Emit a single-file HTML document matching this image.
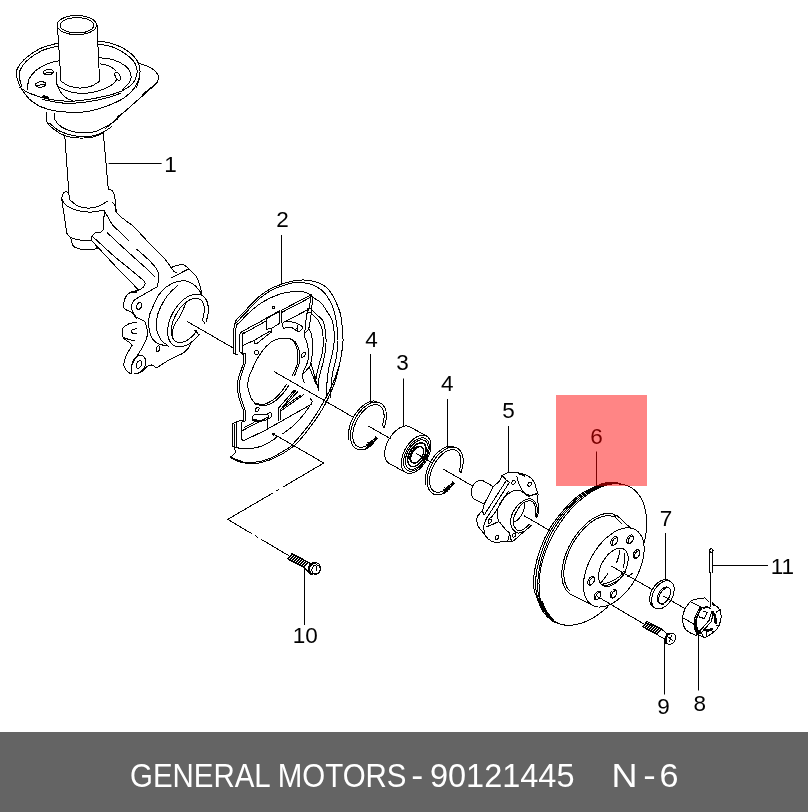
<!DOCTYPE html>
<html lang="en">
<head>
<meta charset="utf-8">
<title>GENERAL MOTORS - 90121445 N - 6</title>
<style>
html,body{margin:0;padding:0;background:#fff;}
body{width:808px;height:812px;overflow:hidden;font-family:"Liberation Sans",sans-serif;}
svg{display:block;will-change:transform;}
.art path{stroke:#000;stroke-linecap:round;stroke-linejoin:round;}
.lbl{font-family:"Liberation Sans",sans-serif;font-size:22.5px;fill:#000;text-anchor:middle;}
.ft{font-family:"Liberation Sans",sans-serif;font-size:33px;fill:#fff;}
</style>
</head>
<body>
<svg width="808" height="812" viewBox="0 0 808 812">
<rect x="0" y="0" width="808" height="812" fill="#fff"/>
<g class="art" shape-rendering="crispEdges">
<path d="M96.6 25.1C96.6 25.9 96.4 26.8 95.9 27.6C95.5 28.4 94.8 29.2 93.9 29.9C93.1 30.6 92 31.3 90.8 31.9C89.6 32.5 88.2 33 86.7 33.4C85.2 33.8 83.6 34.2 81.9 34.4C80.3 34.6 78.5 34.7 76.8 34.7C75.1 34.7 73.3 34.6 71.7 34.4C70 34.2 68.4 33.8 66.9 33.4C65.4 33 64 32.5 62.8 31.9C61.6 31.3 60.5 30.6 59.7 29.9C58.8 29.2 58.1 28.4 57.7 27.6C57.2 26.8 57 25.9 57 25.1C57 24.3 57.2 23.4 57.7 22.6C58.1 21.8 58.8 21 59.7 20.3C60.5 19.6 61.6 18.9 62.8 18.3C64 17.7 65.4 17.2 66.9 16.8C68.4 16.4 70 16 71.7 15.8C73.3 15.6 75.1 15.5 76.8 15.5C78.5 15.5 80.3 15.6 81.9 15.8C83.6 16 85.2 16.4 86.7 16.8C88.2 17.2 89.6 17.7 90.8 18.3C92 18.9 93.1 19.6 93.9 20.3C94.8 21 95.5 21.8 95.9 22.6C96.4 23.4 96.6 24.3 96.6 25.1Z" fill="none" stroke-width="1"/>
<path d="M93.9 25.3C93.9 26 93.7 26.7 93.3 27.3C92.9 27.9 92.4 28.6 91.6 29.1C90.9 29.7 90 30.3 89 30.7C87.9 31.2 86.7 31.6 85.5 32C84.2 32.3 82.8 32.6 81.4 32.7C80 32.9 78.5 33 77 33C75.5 33 74 32.9 72.6 32.7C71.2 32.6 69.8 32.3 68.6 32C67.3 31.6 66.1 31.2 65 30.7C64 30.3 63.1 29.7 62.4 29.1C61.6 28.6 61.1 27.9 60.7 27.3C60.3 26.7 60.1 26 60.1 25.3C60.1 24.6 60.3 23.9 60.7 23.3C61.1 22.7 61.6 22 62.4 21.4C63.1 20.9 64 20.3 65 19.9C66.1 19.4 67.3 19 68.5 18.6C69.8 18.3 71.2 18 72.6 17.9C74 17.7 75.5 17.6 77 17.6C78.5 17.6 80 17.7 81.4 17.9C82.8 18 84.2 18.3 85.5 18.6C86.7 19 87.9 19.4 89 19.9C90 20.3 90.9 20.9 91.6 21.4C92.4 22 92.9 22.7 93.3 23.3C93.7 23.9 93.9 24.6 93.9 25.3Z" fill="none" stroke-width="1"/>
<path d="M57.4 25.1L61 81.2" fill="none" stroke-width="1"/>
<path d="M97 25.1L99.6 81.2" fill="none" stroke-width="1"/>
<path d="M61 81.2C62.3 82 65.8 84.8 69 86C72.2 87.2 76.3 88 80 88.1C83.7 88.1 87.7 87.4 91 86.3C94.3 85.2 98.2 82 99.6 81.2" fill="none" stroke-width="1"/>
<path d="M56.5 72.6C56.5 74.4 55.3 80.7 56.5 83.5C57.7 86.3 59.7 87.8 63.5 89.4C67.3 91.1 73.7 93.1 79.3 93.4C84.9 93.7 91.8 92.7 97.1 91.4C102.4 90.1 107.7 87.4 111 85.4C114.3 83.4 115.9 80.5 116.9 79.5" fill="none" stroke-width="1"/>
<path d="M56.5 84C57.2 85.3 58.8 89.6 60.5 92C62.2 94.4 64.9 97.1 67 98.5C69.1 99.9 72 100.2 73 100.6" fill="none" stroke-width="1"/>
<path d="M58.5 42.9C55.4 43.9 45.5 46 39.7 48.8C33.9 51.6 27.7 56.2 23.9 59.7C20.1 63.2 18.1 66.6 16.9 69.6C15.7 72.6 16.1 74.2 16.9 77.5C17.7 80.8 19.4 85.4 21.9 89.4C24.4 93.4 27.5 98 31.8 101.3C36.1 104.6 41.3 107.4 47.6 109.2C53.9 111 62.5 111.9 69.4 112.2C76.3 112.5 82.6 112.4 89.2 111.2C95.8 110 103 107.5 109 105.2C115 102.9 120.6 100.3 124.9 97.3C129.2 94.3 132.3 91 134.8 87.4C137.3 83.8 139 79.5 139.7 75.5C140.3 71.5 140.5 67.7 138.7 63.7C136.9 59.8 133.1 55.1 128.8 51.8C124.5 48.5 118.3 45.7 113 43.9C107.7 42.1 99.8 41.4 97.1 40.9" fill="none" stroke-width="1"/>
<path d="M58.5 45.8C55.7 46.6 47 48.3 41.7 50.8C36.4 53.3 30.4 57.4 26.8 60.7C23.2 64 21.1 67.8 19.9 70.6C18.6 73.4 19 74.9 19.3 77.5C19.6 80.1 21.5 84.9 21.9 86.4" fill="none" stroke-width="1"/>
<path d="M97.1 43.9C99.6 44.4 107 45 112 46.8C117 48.6 122.8 51.8 126.8 54.8C130.8 57.8 134 61.2 135.7 64.7C137.3 68.2 137.3 72.2 136.7 75.5C136 78.8 134.1 82 131.8 84.5C129.5 87 124.9 89.2 122.9 90.4C120.9 91.6 120.4 91.6 119.9 91.8" fill="none" stroke-width="1"/>
<path d="M27.8 89.4C28 87.8 27.5 82.6 28.8 79.5C30.1 76.4 32.6 73.2 35.7 70.6C38.8 68 43.6 65.3 47.6 63.7C51.6 62.1 57.5 61.2 59.5 60.7" fill="none" stroke-width="1"/>
<path d="M99.1 57.7C101.4 58 108.7 58.4 113 59.7C117.3 61 121.9 63.3 124.9 65.6C127.9 67.9 130 70.9 130.8 73.6C131.6 76.2 131.1 78.9 129.8 81.5C128.5 84.1 124.1 88.1 122.9 89.4" fill="none" stroke-width="1"/>
<path d="M100 63.7C101.5 64.1 106.3 64.9 109 66C111.7 67.1 114.8 69.8 116 70.5" fill="none" stroke-width="1"/>
<path d="M19.9 87.4C21.5 88.4 24.9 91.4 29.8 93.4C34.8 95.4 43 98 49.6 99.3C56.2 100.6 62.8 101.3 69.4 101.3C76 101.3 82.6 100.3 89.2 99.3C95.8 98.3 103.9 96.5 109 95.3C114.1 94 118.1 92.4 119.9 91.8" fill="none" stroke-width="1"/>
<path d="M42 99.2C44.2 99.7 50.4 101.3 55 102C59.6 102.7 63.7 103.5 69.4 103.4C75.1 103.3 82.6 102.6 89.2 101.6C95.8 100.6 103.8 98.7 109 97.3C114.2 95.9 118.6 93.9 120.5 93.2" fill="none" stroke-width="1"/>
<path d="M53.2 71.8C53.2 72 53.2 72.2 53.1 72.5C53 72.7 52.8 72.9 52.6 73.2C52.4 73.4 52.2 73.6 51.9 73.8C51.6 74 51.3 74.2 50.9 74.3C50.5 74.5 50.1 74.6 49.7 74.7C49.3 74.8 48.9 74.9 48.4 74.9C48 74.9 47.6 74.9 47.1 74.9C46.7 74.9 46.3 74.8 45.9 74.7C45.5 74.7 45.2 74.5 44.8 74.4C44.5 74.3 44.2 74.1 44 73.9C43.8 73.7 43.6 73.5 43.4 73.3C43.3 73.1 43.2 72.9 43.2 72.6C43.2 72.4 43.2 72.2 43.3 71.9C43.4 71.7 43.6 71.5 43.8 71.2C44 71 44.2 70.8 44.5 70.6C44.8 70.4 45.1 70.2 45.5 70.1C45.9 69.9 46.3 69.8 46.7 69.7C47.1 69.6 47.5 69.5 48 69.5C48.4 69.5 48.8 69.5 49.3 69.5C49.7 69.5 50.1 69.6 50.5 69.7C50.9 69.7 51.2 69.9 51.6 70C51.9 70.1 52.2 70.3 52.4 70.5C52.6 70.7 52.8 70.9 53 71.1C53.1 71.3 53.2 71.5 53.2 71.8Z" fill="none" stroke-width="1"/>
<path d="M43.6 73.4L52.8 72" fill="none" stroke-width="1"/>
<path d="M45.9 84C45.9 84.3 45.9 84.5 45.8 84.8C45.7 85 45.5 85.2 45.3 85.5C45.1 85.7 44.8 85.9 44.5 86.1C44.2 86.3 43.9 86.5 43.5 86.6C43.1 86.8 42.7 86.9 42.3 87C41.8 87.1 41.4 87.2 40.9 87.2C40.5 87.2 40 87.2 39.6 87.2C39.1 87.2 38.7 87.1 38.3 87.1C37.9 87 37.5 86.9 37.2 86.7C36.9 86.6 36.6 86.4 36.3 86.2C36.1 86.1 35.9 85.8 35.8 85.6C35.6 85.4 35.5 85.2 35.5 85C35.5 84.7 35.5 84.5 35.6 84.2C35.7 84 35.9 83.8 36.1 83.5C36.3 83.3 36.6 83.1 36.9 82.9C37.2 82.7 37.5 82.5 37.9 82.4C38.3 82.2 38.7 82.1 39.1 82C39.6 81.9 40 81.8 40.5 81.8C40.9 81.8 41.4 81.8 41.8 81.8C42.3 81.8 42.7 81.9 43.1 81.9C43.5 82 43.9 82.1 44.2 82.3C44.5 82.4 44.8 82.6 45.1 82.8C45.3 82.9 45.5 83.2 45.6 83.4C45.8 83.6 45.9 83.8 45.9 84Z" fill="none" stroke-width="1"/>
<path d="M36 85.6L45.6 84.2" fill="none" stroke-width="1"/>
<path d="M119.5 75.2C119.7 75.5 119.9 75.9 120 76.2C120.1 76.6 120.2 76.9 120.3 77.2C120.4 77.6 120.4 77.9 120.4 78.2C120.4 78.5 120.4 78.8 120.4 79C120.3 79.3 120.2 79.5 120.1 79.7C120 79.9 119.8 80 119.7 80.1C119.5 80.2 119.3 80.2 119.1 80.2C118.9 80.2 118.7 80.2 118.4 80.1C118.2 80 117.9 79.9 117.7 79.7C117.4 79.5 117.2 79.3 117 79C116.7 78.8 116.5 78.5 116.3 78.2C116 77.9 115.8 77.6 115.7 77.2C115.5 76.9 115.3 76.5 115.2 76.2C115.1 75.8 115 75.5 114.9 75.2C114.8 74.8 114.8 74.5 114.8 74.2C114.8 73.9 114.8 73.6 114.8 73.4C114.9 73.1 115 72.9 115.1 72.7C115.2 72.5 115.4 72.4 115.5 72.3C115.7 72.2 115.9 72.2 116.1 72.2C116.3 72.2 116.5 72.2 116.8 72.3C117 72.4 117.3 72.5 117.5 72.7C117.8 72.9 118 73.1 118.2 73.4C118.5 73.6 118.7 73.9 118.9 74.2C119.2 74.5 119.4 74.8 119.5 75.2Z" fill="none" stroke-width="1"/>
<path d="M43.5 96.2L48 97.6" fill="none" stroke-width="2.2"/>
<path d="M139.7 63.7C141.2 64.2 145.8 65.1 148.6 66.6C151.4 68.1 154.8 70.6 156.5 72.6C158.2 74.6 158.5 76.7 158.5 78.5C158.5 80.3 156.8 82.7 156.5 83.5" fill="none" stroke-width="1"/>
<path d="M156.5 83.5L105 129" fill="none" stroke-width="1"/>
<path d="M142.7 94.4L157.5 82.5" fill="none" stroke-width="1"/>
<path d="M116.9 117.1L126.8 110.2" fill="none" stroke-width="1"/>
<path d="M139.7 77.5C139.4 78.4 138.6 81.2 138 83C137.4 84.8 136.5 87.2 136.2 88" fill="none" stroke-width="1"/>
<path d="M46.6 112.2C46.6 113.7 45.4 118.3 46.6 121.1C47.8 123.9 50.5 126.5 53.6 129C56.7 131.5 61.1 134.4 65.4 135.9C69.7 137.4 74.6 137.8 79.2 138C83.8 138.2 88.9 137.9 93 137C97.1 136.1 102.2 133.4 104 132.7" fill="none" stroke-width="1"/>
<path d="M54.6 113.2C54.6 114.2 53.5 116.8 54.6 119.1C55.8 121.4 58 124.8 61.5 127C65 129.2 70 131.2 75.3 132C80.6 132.8 88.2 132.8 93.2 132C98.2 131.2 101.4 128.8 105 127C108.6 125.2 112.3 123.1 115 121.1C117.7 119.1 119.9 116.1 120.9 115.1" fill="none" stroke-width="1"/>
<path d="M49.6 123.1C51.2 124.4 55.2 128.9 59.5 131C63.8 133.1 69.7 135.1 75.3 135.9C80.9 136.7 88.2 136.7 93.2 135.9C98.2 135.1 101.9 132.6 105 131C108.1 129.4 110.8 127.2 112 126.5" fill="none" stroke-width="1"/>
<path d="M64.8 135.8L69.3 199.2" fill="none" stroke-width="1"/>
<path d="M103.4 133.9L108.3 189.3" fill="none" stroke-width="1"/>
<path d="M69.3 199.2C70.6 200.2 74 204 77 205.5C80 207 83.9 208 87.5 208.1C91.1 208.2 95.2 207.5 98.5 206.3C101.8 205.2 105.8 202 107.3 201.2" fill="none" stroke-width="1"/>
<path d="M69 192.5C68.3 192.4 66.1 191.5 65 191.8C63.9 192.1 63 193.3 62.5 194.5C62 195.7 61.9 198.4 61.8 199.2" fill="none" stroke-width="1"/>
<path d="M61.8 199.2L66.7 232.9" fill="none" stroke-width="1"/>
<path d="M61.8 199.2C62.7 200.3 64 204 67 206C70 208 75.4 210 79.6 211C83.8 212 88 212.2 92 212C96 211.8 101.5 210.4 103.4 210.1" fill="none" stroke-width="1"/>
<path d="M108.5 189.3C109.2 189.6 111.5 190 112.5 191C113.5 192 114.1 193.8 114.6 195.5C115 197.2 115.1 200.2 115.2 201.2" fill="none" stroke-width="1"/>
<path d="M115.2 201.2L116.2 211.1" fill="none" stroke-width="1"/>
<path d="M112.9 202.5L115.2 206L115.4 211.3" fill="none" stroke-width="1"/>
<path d="M103.4 210.1L104.2 210.5L103.6 229.7L100.5 232.2L95 232.8L91.9 235.9L91.9 240.8" fill="none" stroke-width="1"/>
<path d="M66.7 232.9C67.3 233.7 68.3 236.3 70.5 237.5C72.7 238.7 76.5 239.4 80 240C83.5 240.6 89.6 240.7 91.5 240.8" fill="none" stroke-width="1"/>
<path d="M70.9 238.2C71.2 239.4 71.7 243.8 72.9 245.5C74.1 247.2 75.9 247.9 78 248.6C80.1 249.3 83.2 249.5 85.5 249.7C87.8 249.9 90 249.8 92 249.6C94 249.4 96.5 248.7 97.4 248.5" fill="none" stroke-width="1"/>
<path d="M97.4 248.5L95.5 244.3" fill="none" stroke-width="1"/>
<path d="M115.2 201.2C115.4 203.1 115 209.3 116.6 212.4C118.2 215.5 121.9 217.5 124.7 219.8C127.5 222.1 131.9 225 133.3 226" fill="none" stroke-width="1"/>
<path d="M133.3 226L148.2 242.1L164.3 258.2L171.1 267.5" fill="none" stroke-width="1"/>
<path d="M171.1 267.5C172 267.2 174.8 266.1 176.5 265.6C178.2 265.1 180.2 264.4 181.6 264.4C183 264.4 183.8 264.9 185 265.6C186.2 266.4 187.1 266.9 189.1 268.9C191.1 270.9 195 274.3 197 277.8C199 281.3 200.2 286.7 201 289.7C201.8 292.7 201.8 294.6 202 295.6" fill="none" stroke-width="1"/>
<path d="M171.1 267.5L174.2 271.8L177 272.8" fill="none" stroke-width="1"/>
<path d="M172.3 277.4L187.8 269.3" fill="none" stroke-width="1"/>
<path d="M104.2 210.5L112.3 224.8L128.4 240.2" fill="none" stroke-width="1"/>
<path d="M107.3 232.8L118.5 243.3L130.8 254.5L144.5 266.8L155 277.3" fill="none" stroke-width="1"/>
<path d="M137 249.5C139.1 251.3 146.1 257.3 149.4 260.6C152.7 263.9 155.2 266.6 156.8 269.3C158.4 272 158.6 273.8 158.7 276.7C158.8 279.6 157.7 285 157.5 286.6" fill="none" stroke-width="1"/>
<path d="M91.9 235.9L114.8 256.9L127.1 266.8L142 279.2" fill="none" stroke-width="1"/>
<path d="M142 279.2C142.5 279.8 144.8 281.7 145.1 282.9C145.4 284.1 144.8 285.4 143.8 286.6C142.8 287.8 139.7 289.7 138.9 290.3" fill="none" stroke-width="1"/>
<path d="M91.9 240.8L116 266.8L138.9 290.3" fill="none" stroke-width="1"/>
<path d="M138.9 290.3C137.6 290.6 133 291.2 130.8 292.2C128.6 293.2 127.1 294.7 125.9 296.5C124.7 298.3 124.1 301.1 123.8 303C123.5 304.9 123.4 306.8 124 308C124.6 309.2 126.2 309.8 127.5 310.5C128.8 311.2 130.2 311.2 131.7 312.5C133.2 313.8 135.8 317.4 136.6 318.4" fill="none" stroke-width="1"/>
<path d="M131.5 291.8L136.5 292.4" fill="none" stroke-width="2"/>
<path d="M157.5 286.6L134.7 299.6" fill="none" stroke-width="1"/>
<path d="M134.7 299.6C134.2 300.3 132.5 302.4 132 304C131.5 305.6 131.4 307.8 131.7 309.5C132 311.2 133.2 312.7 134 314C134.8 315.3 135.4 316.5 136.6 317.4C137.8 318.3 139.7 318.9 141 319.6C142.3 320.3 143.7 320.2 144.6 321.4C145.5 322.6 146 325 146.5 327C147 329 147.6 331.1 147.5 333.3C147.4 335.5 146.8 337.7 146 340C145.2 342.3 144.1 344.4 142.6 347.1C141.1 349.8 138.7 353.4 137 356C135.3 358.6 133.6 361 132.7 363C131.8 365 131.7 366.4 131.5 368C131.3 369.6 131.7 372.1 131.7 372.9" fill="none" stroke-width="1"/>
<path d="M141.4 306.7C141.3 307 141.1 307.3 141 307.6C140.8 307.8 140.6 308.1 140.4 308.3C140.3 308.5 140 308.8 139.8 308.9C139.6 309.1 139.4 309.2 139.2 309.3C139 309.4 138.7 309.4 138.5 309.5C138.3 309.5 138.1 309.4 137.9 309.4C137.7 309.3 137.6 309.2 137.4 309.1C137.3 308.9 137.1 308.7 137 308.5C136.9 308.3 136.8 308.1 136.8 307.8C136.7 307.5 136.7 307.3 136.7 307C136.7 306.7 136.7 306.3 136.8 306C136.8 305.7 136.9 305.4 137 305.1C137.1 304.8 137.3 304.5 137.4 304.2C137.6 304 137.8 303.7 138 303.5C138.1 303.3 138.4 303 138.6 302.9C138.8 302.7 139 302.6 139.2 302.5C139.4 302.4 139.7 302.4 139.9 302.3C140.1 302.3 140.3 302.4 140.5 302.4C140.7 302.5 140.8 302.6 141 302.7C141.1 302.9 141.3 303.1 141.4 303.3C141.5 303.5 141.6 303.7 141.6 304C141.7 304.3 141.7 304.5 141.7 304.8C141.7 305.1 141.7 305.5 141.6 305.8C141.6 306.1 141.5 306.4 141.4 306.7Z" fill="none" stroke-width="1"/>
<path d="M136.6 322.1C135.3 322.4 130.9 322.9 128.6 323.9C126.3 324.9 124.1 326.8 123 328.3C121.9 329.9 122 331.6 122.1 333.2C122.2 334.8 122.5 336.8 123.6 338.2C124.7 339.6 127.1 340.8 128.6 341.9C130.1 343 131.7 344.5 132.3 345" fill="none" stroke-width="1"/>
<path d="M123 336.9C123.9 337.3 126.7 338.8 128.6 339.4C130.5 340 133.5 340.4 134.5 340.6" fill="none" stroke-width="1"/>
<path d="M136.6 328.9C135.9 329 133.2 329.1 132.3 329.5C131.4 329.9 131.2 330.8 131.3 331.4C131.4 332 132 332.8 132.9 333.2C133.8 333.6 136 333.4 136.6 333.5" fill="none" stroke-width="1"/>
<path d="M132.3 345C131.8 345.9 130.1 348.5 129 350.5C127.9 352.5 126.6 354.6 125.7 357C124.8 359.4 123.7 362.8 123.8 365C123.9 367.2 125.2 369 126.5 370.5C127.8 372 129.5 373.5 131.7 373.9C133.9 374.3 137.6 373.5 139.6 372.9C141.6 372.2 142.3 371 143.5 370C144.7 369 145.2 367.7 146.5 366.9C147.8 366.1 149.8 364.8 151.5 365C153.2 365.2 155.6 367.4 156.4 367.9" fill="none" stroke-width="1"/>
<path d="M156.4 367.9L167.3 361L183.2 353.1" fill="none" stroke-width="1"/>
<path d="M183.2 353.1C183.9 352.4 186.3 350.3 187.5 349C188.7 347.7 189.3 346.4 190.1 345.1C190.8 343.8 191.7 341.7 192 341" fill="none" stroke-width="1"/>
<path d="M131.8 366C131.8 365.7 131.8 364.8 131.9 364.2C132 363.6 132.2 362.9 132.4 362.3C132.6 361.7 132.8 361.1 133.1 360.6C133.4 360 133.8 359.4 134.1 358.9C134.5 358.4 134.9 358 135.3 357.5C135.8 357.1 136.2 356.8 136.7 356.5C137.2 356.1 137.7 355.9 138.2 355.7C138.7 355.5 139.2 355.4 139.7 355.3C140.1 355.3 140.6 355.3 141.1 355.4C141.6 355.4 142 355.6 142.5 355.8C142.9 356 143.3 356.3 143.6 356.6C144 356.9 144.3 357.3 144.6 357.7C144.9 358.1 145.1 358.6 145.3 359.1C145.5 359.7 145.6 360.2 145.7 360.8C145.8 361.4 145.8 362 145.8 362.6C145.8 363.2 145.7 363.8 145.5 364.4C145.4 365.1 145.2 365.7 145 366.3C144.8 366.9 144.5 367.5 144.2 368C143.9 368.6 143.5 369.1 143.1 369.6C142.7 370 142.3 370.5 141.8 370.9C141.4 371.2 140.9 371.6 140.4 371.8C139.9 372.1 139.2 372.4 138.9 372.5" fill="none" stroke-width="1"/>
<path d="M141.2 365.4C141.1 365.7 140.9 366 140.8 366.3C140.6 366.6 140.4 366.9 140.2 367.1C140 367.4 139.7 367.6 139.5 367.8C139.3 367.9 139 368.1 138.8 368.2C138.6 368.3 138.3 368.3 138.1 368.3C137.9 368.3 137.7 368.3 137.5 368.2C137.3 368.1 137.1 368 137 367.8C136.8 367.7 136.7 367.5 136.6 367.3C136.5 367 136.4 366.8 136.4 366.5C136.3 366.2 136.3 365.9 136.3 365.6C136.3 365.3 136.4 364.9 136.5 364.6C136.5 364.3 136.6 363.9 136.8 363.6C136.9 363.3 137.1 363 137.2 362.7C137.4 362.4 137.6 362.1 137.8 361.9C138 361.6 138.3 361.4 138.5 361.2C138.7 361.1 139 360.9 139.2 360.8C139.4 360.7 139.7 360.7 139.9 360.7C140.1 360.7 140.3 360.7 140.5 360.8C140.7 360.9 140.9 361 141 361.2C141.2 361.3 141.3 361.5 141.4 361.7C141.5 362 141.6 362.2 141.6 362.5C141.7 362.8 141.7 363.1 141.7 363.4C141.7 363.7 141.6 364.1 141.5 364.4C141.5 364.7 141.4 365.1 141.2 365.4Z" fill="none" stroke-width="1"/>
<path d="M159.7 349.3C159.6 349.6 159.5 349.8 159.4 350C159.2 350.2 159.1 350.5 159 350.6C158.8 350.8 158.6 351 158.5 351.1C158.3 351.3 158.1 351.4 158 351.4C157.8 351.5 157.6 351.6 157.4 351.6C157.3 351.6 157.1 351.6 157 351.5C156.8 351.5 156.7 351.4 156.6 351.3C156.5 351.1 156.3 351 156.3 350.8C156.2 350.7 156.1 350.5 156.1 350.3C156 350 156 349.8 156 349.6C156 349.3 156.1 349.1 156.1 348.8C156.1 348.6 156.2 348.3 156.3 348.1C156.4 347.8 156.5 347.6 156.6 347.4C156.8 347.2 156.9 346.9 157 346.8C157.2 346.6 157.4 346.4 157.5 346.3C157.7 346.1 157.9 346 158 346C158.2 345.9 158.4 345.8 158.6 345.8C158.7 345.8 158.9 345.8 159 345.9C159.2 345.9 159.3 346 159.4 346.1C159.5 346.3 159.7 346.4 159.7 346.6C159.8 346.7 159.9 346.9 159.9 347.1C160 347.4 160 347.6 160 347.8C160 348.1 159.9 348.3 159.9 348.6C159.9 348.8 159.8 349.1 159.7 349.3Z" fill="none" stroke-width="1"/>
<path d="M165.3 287.7C164.1 289.1 160 293 158 296C156 299 154.9 302.3 153.5 305.5C152.1 308.7 150.3 312 149.5 315C148.7 318 148.5 320.7 148.5 323.4C148.5 326.1 149 328.7 149.5 331C150 333.3 150.6 335.4 151.5 337.2C152.4 338.9 153.7 340.3 155 341.5C156.3 342.7 157.2 343.4 159.4 344.2C161.6 345 166.8 345.8 168.3 346.1" fill="none" stroke-width="1"/>
<path d="M177.2 285.7C175.7 287.2 170.6 291.7 168 295C165.4 298.3 163.2 302.2 161.4 305.5C159.7 308.8 158.3 312 157.5 315C156.7 318 156.5 320.7 156.4 323.4C156.3 326.1 156.5 328.7 157 331C157.5 333.3 158.4 335.4 159.4 337.2C160.4 339 161.7 340.7 163 342C164.3 343.3 166.6 344.6 167.3 345.1" fill="none" stroke-width="1"/>
<path d="M165.3 287.7C166.4 287 169.7 284.6 172 283.5C174.3 282.4 176.9 281.6 179.2 281.2C181.5 280.8 183.7 280.5 186 281C188.3 281.5 190.8 282.5 193 284C195.2 285.5 197.5 288.1 199 290C200.5 291.9 201.5 294.7 202 295.6" fill="none" stroke-width="1"/>
<path d="M171.9 277.5L188.7 269.3" fill="none" stroke-width="1"/>
<path d="M199.1 334.6C198.4 335.3 196.5 337.7 195.2 339C193.8 340.3 192.4 341.6 191 342.6C189.5 343.6 188.1 344.5 186.6 345.2C185.2 345.8 183.7 346.3 182.3 346.6C181 346.9 179.6 347 178.3 346.9C177 346.8 175.8 346.4 174.7 345.9C173.6 345.4 172.6 344.7 171.8 343.8C170.9 343 170.1 341.9 169.5 340.7C168.9 339.5 168.4 338.1 168.1 336.6C167.8 335.1 167.6 333.5 167.6 331.8C167.6 330.1 167.8 328.3 168.1 326.4C168.4 324.6 168.8 322.7 169.4 320.8C170 319 170.8 317 171.6 315.2C172.5 313.4 173.5 311.5 174.6 309.8C175.7 308.1 176.9 306.5 178.1 304.9C179.4 303.4 180.8 302 182.1 300.8C183.5 299.5 185 298.4 186.4 297.5C187.8 296.6 189.3 295.8 190.8 295.3C192.2 294.7 193.6 294.3 195 294.2C196.3 294 197.7 294.1 198.9 294.3C200.1 294.5 201.3 295 202.3 295.6C203.3 296.2 204.3 297.1 205 298.1C205.8 299.1 206.5 300.2 207 301.5C207.5 302.8 207.9 304.3 208.1 305.9C208.3 307.4 208.4 309.1 208.3 310.9C208.2 312.6 208 314.5 207.6 316.3C207.2 318.2 206.2 321 206 322" fill="none" stroke-width="1"/>
<path d="M196.9 330.7C196.4 331.4 194.9 333.5 193.8 334.7C192.7 335.8 191.5 337 190.4 337.9C189.2 338.9 188.1 339.7 186.9 340.4C185.7 341.1 184.6 341.6 183.4 342C182.3 342.3 181.2 342.6 180.2 342.6C179.2 342.6 178.2 342.5 177.3 342.2C176.4 341.9 175.5 341.4 174.8 340.8C174.1 340.2 173.5 339.4 173 338.5C172.5 337.6 172.1 336.6 171.8 335.4C171.5 334.3 171.3 333 171.3 331.6C171.3 330.3 171.4 328.8 171.6 327.3C171.8 325.9 172.1 324.3 172.6 322.7C173 321.2 173.6 319.6 174.3 318C175 316.5 175.7 314.9 176.6 313.4C177.4 311.9 178.4 310.5 179.4 309.1C180.4 307.8 181.5 306.5 182.6 305.3C183.7 304.2 184.8 303.1 186 302.2C187.2 301.3 188.3 300.6 189.5 300C190.7 299.3 191.8 298.9 192.9 298.6C194 298.3 195.1 298.2 196.1 298.2C197.1 298.3 198.1 298.5 198.9 298.8C199.8 299.2 200.6 299.7 201.3 300.4C201.9 301.1 202.5 302 203 302.9C203.4 303.9 203.8 305 204 306.2C204.2 307.4 204.3 308.7 204.3 310.1C204.3 311.5 204.1 313 203.8 314.5C203.6 316 202.9 318.4 202.7 319.1" fill="none" stroke-width="1"/>
<path d="M205 323.4L202 319.4" fill="none" stroke-width="1"/>
<path d="M198 333.6L194.8 330.2" fill="none" stroke-width="1"/>
<path d="M186.1 302.6C185.5 304 183.7 308.5 182.5 311C181.3 313.5 180.4 315.2 179.2 317.4C177.9 319.6 176.1 321.7 175 324C173.9 326.3 172.8 328.8 172.5 331C172.2 333.2 172.9 336 173 337" fill="none" stroke-width="1"/>
<path d="M235.6 320.8C237.3 318.9 242.1 313.8 246.1 309.7C250.1 305.6 255.6 299.5 259.7 296C263.8 292.5 267.2 290.6 270.8 288.6C274.4 286.7 277.9 285.5 281.4 284.3C284.9 283.1 288.5 281.9 291.9 281.2C295.3 280.5 298.7 280.1 301.8 280C304.9 279.9 307.5 280.1 310.4 280.6C313.3 281.1 316.4 281.9 319.1 283C321.8 284.1 324.4 285.5 326.5 287.4C328.6 289.3 330.3 291.8 332 294.5C333.7 297.2 335.3 300.6 336.6 303.6C337.9 306.6 339.2 309.5 340 312.5C340.8 315.5 341.1 316.6 341.6 321.4C342.1 326.2 343.2 334.9 343 341.2C342.8 347.5 341.7 353.1 340.6 359C339.5 364.9 338.2 371.3 336.6 376.8C335 382.3 333.3 386.8 331 392C328.7 397.2 326.3 402.5 323 408.1C319.7 413.8 315.6 420 311.1 425.9C306.7 431.8 300.8 439.2 296.3 443.7C291.9 448.1 288.8 449.9 284.4 452.6C279.9 455.3 274.6 458.1 269.6 460C264.7 461.9 258.8 463.3 254.7 463.8C250.6 464.3 246.6 463.1 245 463" fill="none" stroke-width="1"/>
<path d="M236.6 322.4C238.4 320.5 243.2 315.3 247.2 311.2C251.2 307.1 256.6 301.1 260.7 297.6C264.8 294.1 268.1 292.1 271.6 290.2C275.2 288.2 278.6 287.1 282 285.9C285.4 284.7 289 283.6 291.9 283C294.8 282.4 296.4 282.3 299.3 282.4C302.2 282.5 306.3 283 309.2 283.7C312.1 284.4 314.1 285.4 316.6 286.8C319.1 288.2 321.8 289.9 324 292.3C326.2 294.7 328.4 298.2 330 301C331.6 303.8 332.4 305.3 333.5 309C334.6 312.7 335.9 318 336.6 323.4C337.4 328.8 338.1 335.3 338 341.2C337.9 347.1 337 353.2 336 359C335 364.8 333 369.6 332.1 376C331.2 382.4 330.7 393.9 330.4 397.5" fill="none" stroke-width="1"/>
<path d="M230.9 457.1C232.4 457.8 235.9 460.6 239.9 461.5C243.9 462.4 249.8 462.8 254.7 462.3C259.6 461.8 264.7 460.6 269.6 458.6C274.6 456.6 280.7 452.6 284.4 450.4C288.1 448.2 287.8 449.3 291.8 445.2C295.8 441.1 303.5 432.1 308.2 425.9C312.9 419.7 316.5 413.8 320 408.1C323.5 402.4 326.7 396.3 329 391.7C331.3 387.1 332.5 384.1 334 380.5C335.5 376.9 336.7 373.4 337.8 370C338.9 366.6 340 361.7 340.4 360" fill="none" stroke-width="1"/>
<path d="M230.9 457.1C231.6 457.5 233.2 458.8 235 459.6C236.8 460.4 240.8 461.6 242 462" fill="none" stroke-width="2"/>
<path d="M237.4 324.5C239.7 322.2 246.7 314.7 251 310.9C255.3 307.1 258.6 304.4 263.4 301.6C268.1 298.8 274.8 295.9 279.5 294.2C284.2 292.5 288.6 292.2 291.9 291.7C295.2 291.2 296.8 290.9 299.3 291.1C301.8 291.3 304.6 292.2 306.7 292.9C308.8 293.6 310.9 295 311.7 295.4" fill="none" stroke-width="1"/>
<path d="M312.9 297.5C314.2 298.4 318.5 300.4 320.8 302.6C323.1 304.9 325.3 308.9 326.7 311C328.1 313.1 328.3 313.2 329.3 315C330.3 316.8 331.8 318.9 332.6 321.6C333.4 324.3 333.7 328.4 334 331C334.3 333.6 334.4 334.7 334.3 337.2C334.2 339.7 334.2 342.7 333.7 346C333.2 349.3 332.3 353.4 331.5 357.1C330.7 360.8 329.4 364.1 328.7 368.2C328 372.3 327.5 376.9 327.1 381.5C326.7 386.1 326.6 393.5 326.5 395.9" fill="none" stroke-width="1"/>
<path d="M311.3 309.2C312.3 310.2 315.2 313.1 317.1 315C319 316.9 321.3 317.7 322.7 320.5C324.1 323.3 324.8 327.4 325.4 331.6C325.9 335.9 326.3 341.4 326 346C325.7 350.6 324.7 354.9 323.8 359.3C322.9 363.7 321.3 368.8 320.4 372.6C319.5 376.4 318.7 379.1 318.4 382C318.1 384.9 318.6 388.8 318.7 390.2" fill="none" stroke-width="1"/>
<path d="M310.2 312.2C310.9 312.9 313.2 315.1 314.5 316.5C315.8 317.9 316.9 318.4 318.2 320.5C319.5 322.6 321.3 326.2 322.1 329.4C322.9 332.5 323.1 335.9 323.2 339.4C323.3 342.9 323.3 346.4 322.7 350.5C322.1 354.6 320.3 359.7 319.3 363.8C318.3 367.9 317.2 371.8 316.6 374.9C316 378 315.7 381.3 315.5 382.6" fill="none" stroke-width="1"/>
<path d="M309.4 367.1L315.5 382.6" fill="none" stroke-width="1"/>
<path d="M311 363L318.6 390.2" fill="none" stroke-width="1"/>
<path d="M315.2 377L315.6 382.8" fill="none" stroke-width="2"/>
<path d="M235.6 320.8L233.7 329.5L233.7 353.6L236.2 354.4L237.6 354.1" fill="none" stroke-width="1"/>
<path d="M237.2 323.2L235.6 330L235.6 353.8" fill="none" stroke-width="1"/>
<path d="M242.4 331.3C242 331.7 240.7 332.6 240.2 333.5C239.7 334.4 239.5 333.9 239.3 337C239.2 340.1 239.3 349.3 239.3 351.8" fill="none" stroke-width="1"/>
<path d="M243.6 332.6C243.4 333 242.4 333.9 242.2 335C242 336.1 242.4 338.8 242.4 339.5" fill="none" stroke-width="1"/>
<path d="M242.4 339.5L242.4 353" fill="none" stroke-width="1"/>
<path d="M239.3 351.8L242.4 353.6L245.5 353.6L245.5 362.9" fill="none" stroke-width="1"/>
<path d="M245.5 362.9C245 364.4 243.3 369.2 242.4 372C241.5 374.8 240.5 377.4 240 379.9C239.5 382.3 239.2 384 239.3 386.7C239.4 389.4 239.9 392.8 240.6 396C241.3 399.2 242.8 403.6 243.6 406C244.4 408.4 244.9 409.8 245.2 410.5" fill="none" stroke-width="1"/>
<path d="M242.4 354.4L243.6 354.4L243.6 362.9" fill="none" stroke-width="1"/>
<path d="M243.6 362.9C243.1 364.4 241.4 369.2 240.5 372C239.6 374.8 238.5 377.4 238 379.9C237.5 382.3 237.3 384 237.4 386.7C237.5 389.4 237.9 392.8 238.6 396C239.3 399.2 240.8 403.6 241.6 406C242.4 408.4 243.3 409.8 243.6 410.5" fill="none" stroke-width="1"/>
<path d="M245.2 410.5L245.2 421" fill="none" stroke-width="1"/>
<path d="M243.6 410.5L243.6 420" fill="none" stroke-width="1"/>
<path d="M242.4 331.3L266.5 318.3" fill="none" stroke-width="1"/>
<path d="M243.8 333.4L266.5 320.8" fill="none" stroke-width="1"/>
<path d="M266.5 318.3L279.5 311.2" fill="none" stroke-width="1.6"/>
<path d="M281 310.5L311.1 294.8" fill="none" stroke-width="1"/>
<path d="M281 312.8L312.4 296.4" fill="none" stroke-width="1"/>
<path d="M266.5 318.3L266.5 329.5L269.6 328.2L271.5 328.8L271.5 331.9" fill="none" stroke-width="1"/>
<path d="M279.5 311.2L279.5 323.3" fill="none" stroke-width="1"/>
<path d="M281 310.5L281 322.8" fill="none" stroke-width="1"/>
<path d="M271.5 328.4L279.5 323.3" fill="none" stroke-width="1"/>
<path d="M243 345.5L254.8 340" fill="none" stroke-width="1"/>
<path d="M283.2 322.6L309.2 309" fill="none" stroke-width="1"/>
<path d="M254.8 340L269.6 331.3L271.5 331.9L256.6 343.7L254.8 343.7Z" fill="none" stroke-width="1"/>
<path d="M272.4 306.2L274.2 306.2L274.2 308.2L272.4 308.2Z" fill="none" stroke-width="1"/>
<path d="M258.6 352.6C258.6 352.8 258.6 353 258.5 353.2C258.5 353.4 258.4 353.5 258.3 353.7C258.2 353.9 258.1 354 258 354.2C257.9 354.3 257.7 354.4 257.6 354.5C257.5 354.6 257.3 354.7 257.1 354.7C257 354.8 256.8 354.8 256.6 354.8C256.4 354.8 256.2 354.8 256.1 354.7C255.9 354.7 255.7 354.6 255.6 354.5C255.5 354.4 255.3 354.3 255.2 354.2C255.1 354 255 353.9 254.9 353.7C254.8 353.5 254.7 353.4 254.7 353.2C254.6 353 254.6 352.8 254.6 352.6C254.6 352.4 254.6 352.2 254.7 352C254.7 351.8 254.8 351.7 254.9 351.5C255 351.3 255.1 351.2 255.2 351C255.3 350.9 255.5 350.8 255.6 350.7C255.7 350.6 255.9 350.5 256.1 350.5C256.2 350.4 256.4 350.4 256.6 350.4C256.8 350.4 257 350.4 257.1 350.5C257.3 350.5 257.5 350.6 257.6 350.7C257.7 350.8 257.9 350.9 258 351C258.1 351.2 258.2 351.3 258.3 351.5C258.4 351.7 258.5 351.8 258.5 352C258.6 352.2 258.6 352.4 258.6 352.6Z" fill="none" stroke-width="1"/>
<path d="M304.6 355.7C304.5 355.9 304.3 356.1 304.1 356.3C304 356.5 303.8 356.6 303.6 356.8C303.4 356.9 303.2 357 303.1 357.1C302.9 357.2 302.7 357.3 302.5 357.4C302.4 357.4 302.2 357.4 302.1 357.4C301.9 357.4 301.8 357.3 301.7 357.3C301.6 357.2 301.5 357.1 301.4 357C301.4 356.8 301.3 356.7 301.3 356.5C301.3 356.3 301.3 356.1 301.3 355.9C301.3 355.7 301.4 355.5 301.5 355.3C301.6 355.1 301.7 354.8 301.8 354.6C301.9 354.4 302 354.2 302.2 353.9C302.3 353.7 302.5 353.5 302.7 353.3C302.8 353.1 303 353 303.2 352.8C303.4 352.7 303.6 352.6 303.7 352.5C303.9 352.4 304.1 352.3 304.3 352.2C304.4 352.2 304.6 352.2 304.7 352.2C304.9 352.2 305 352.3 305.1 352.3C305.2 352.4 305.3 352.5 305.4 352.6C305.4 352.8 305.5 352.9 305.5 353.1C305.5 353.3 305.5 353.5 305.5 353.7C305.5 353.9 305.4 354.1 305.3 354.3C305.2 354.5 305.1 354.8 305 355C304.9 355.2 304.8 355.4 304.6 355.7Z" fill="none" stroke-width="1"/>
<path d="M258.6 410.4C258.5 410.6 258.4 410.8 258.2 410.9C258.1 411.1 257.9 411.2 257.8 411.4C257.6 411.5 257.5 411.6 257.3 411.7C257.1 411.8 257 411.8 256.8 411.9C256.7 411.9 256.5 411.9 256.4 411.9C256.2 411.9 256.1 411.8 255.9 411.8C255.8 411.7 255.7 411.6 255.6 411.5C255.5 411.4 255.5 411.2 255.4 411.1C255.4 410.9 255.3 410.7 255.3 410.6C255.3 410.4 255.3 410.2 255.4 410C255.4 409.8 255.5 409.6 255.5 409.4C255.6 409.2 255.7 409 255.8 408.8C255.9 408.6 256 408.4 256.2 408.3C256.3 408.1 256.5 408 256.6 407.8C256.8 407.7 256.9 407.6 257.1 407.5C257.3 407.4 257.4 407.4 257.6 407.3C257.7 407.3 257.9 407.3 258 407.3C258.2 407.3 258.3 407.4 258.4 407.4C258.6 407.5 258.7 407.6 258.8 407.7C258.9 407.8 258.9 408 259 408.1C259 408.3 259.1 408.5 259.1 408.6C259.1 408.8 259.1 409 259 409.2C259 409.4 258.9 409.6 258.9 409.8C258.8 410 258.7 410.2 258.6 410.4Z" fill="none" stroke-width="1"/>
<path d="M282.6 323.9C282.9 322.8 284.1 321.7 285.7 321.4C287.2 321.1 289.6 321.5 291.9 322C294.2 322.5 297.6 323.7 299.3 324.5C301.1 325.3 302.1 326.1 302.4 327C302.7 327.9 302 329.4 301.2 330.1C300.4 330.8 298.9 331.6 297.5 331.3C296.1 331 294.7 328.9 293.1 328.2C291.6 327.5 289.8 327 288.2 327C286.6 327 284.7 328.7 283.8 328.2C282.9 327.7 282.3 325 282.6 323.9Z" fill="none" stroke-width="1"/>
<path d="M298 325.5C297.8 326 297 327.6 297 328.5C297 329.4 298 330.6 298.2 331" fill="none" stroke-width="1"/>
<path d="M294.4 375.9C294.8 375 295.8 372.6 296.6 370.4C297.4 368.2 298.9 365.7 299.4 362.6C299.8 359.5 299.6 354.6 299.3 351.7C299 348.8 298.5 347.4 297.5 345.5C296.5 343.6 295.3 341.2 293.1 340C290.9 338.8 287.8 338 284.5 338.1C281.2 338.2 276.4 339.2 273.3 340.6C270.2 342.1 268.4 344.1 265.9 346.8C263.4 349.5 260.8 353 258.5 356.7C256.2 360.4 254 365.1 252.3 369C250.6 372.9 248.8 376.2 248.2 380C247.6 383.8 247.7 387.9 248.8 391.7C249.9 395.5 252.2 400.8 254.7 402.9C257.2 405 260.4 405 263.6 404.4C266.8 403.8 271 401.3 274 399.2C277 397.1 279.3 394.2 281.4 391.7C283.5 389.2 285.7 385.5 286.6 384.3" fill="none" stroke-width="1"/>
<path d="M291.5 339.2C292.1 340 294.3 341.9 295.3 344C296.3 346.1 297.1 348.4 297.5 351.5C297.9 354.6 298.1 359.5 297.6 362.6C297.2 365.8 295.7 368.3 294.8 370.4C293.9 372.5 292.7 374.6 292.3 375.4" fill="none" stroke-width="1"/>
<path d="M255.5 404.3C257.1 404.5 261.7 406.2 265 405.6C268.3 405 272.4 402.8 275.5 400.7C278.6 398.6 281.2 395.4 283.5 392.8C285.8 390.2 288.1 386.3 289 385" fill="none" stroke-width="1"/>
<path d="M255 403.5L262 405" fill="none" stroke-width="1.8"/>
<path d="M311.1 294.8C310.8 297.1 309.9 305 309.2 308.4C308.4 311.8 307.3 311.1 306.6 315C305.9 318.9 305.3 327.9 304.9 331.6C304.5 335.3 304.5 336.2 304.4 337.1" fill="none" stroke-width="1"/>
<path d="M304.4 337.1C304.9 338.4 307 341.2 307.7 344.9C308.4 348.6 308.8 355.4 308.3 359.3C307.8 363.2 305.9 365.4 304.9 368.2C303.9 371 302.3 373.5 302.2 375.9C302.1 378.3 304 381.5 304.4 382.6" fill="none" stroke-width="1"/>
<path d="M312.9 296C312.6 299.2 311.7 309.6 311 315C310.3 320.4 309.8 325.4 308.8 328.3C307.8 331.2 305.5 332 304.9 332.7" fill="none" stroke-width="1"/>
<path d="M308.8 328.3C309.3 329.4 311 331.6 311.6 334.9C312.2 338.2 312.8 343.6 312.7 348.2C312.6 352.8 311.6 359.5 311 362.6C310.4 365.8 309.7 366.4 309.4 367.1" fill="none" stroke-width="1"/>
<path d="M309.4 367.1L303.3 373.7" fill="none" stroke-width="1"/>
<path d="M307.4 308.6L311.1 308.6L311.1 312.1L307.4 312.1Z" fill="none" stroke-width="1"/>
<path d="M243.6 420L236.9 421.4L232.4 423.7L232.4 445.9L234.7 447.4L235.4 452.6L230.9 457.1" fill="none" stroke-width="1"/>
<path d="M245.2 421L241.3 422.2L241.3 439.3L243.6 440.7" fill="none" stroke-width="1"/>
<path d="M234.5 424L234.5 446.5" fill="none" stroke-width="1"/>
<path d="M236.3 422.8L236.3 447" fill="none" stroke-width="1"/>
<path d="M243.6 440.7L265.1 430.4L311.1 404.4" fill="none" stroke-width="1"/>
<path d="M242.8 430.4L267.3 417.5" fill="none" stroke-width="1"/>
<path d="M244.3 427.4L253.2 422.9" fill="none" stroke-width="1"/>
<path d="M267.3 417.5L267.3 428.9" fill="none" stroke-width="1"/>
<path d="M252.5 417C252.8 416 253.1 415.2 254.7 414.8C256.3 414.4 259.9 414.5 262 414.4C264.1 414.3 266 414.3 267.3 414C268.6 413.7 268.9 412.4 269.6 412.5C270.4 412.6 271.8 413.8 271.8 414.8C271.8 415.8 271.6 417.4 269.6 418.5C267.6 419.6 262.6 421 259.9 421.4C257.2 421.8 254.4 421.4 253.2 420.7C252 420 252.2 418 252.5 417Z" fill="none" stroke-width="1"/>
<path d="M253.5 420.2L260 420.8" fill="none" stroke-width="2"/>
<path d="M267.3 414L268.8 416L268 418.8" fill="none" stroke-width="1"/>
<path d="M278.5 408.1L278.5 420.7" fill="none" stroke-width="1"/>
<path d="M280.7 409.6L280.7 419.9" fill="none" stroke-width="1"/>
<path d="M278.5 408.1L294.1 390.2L295.6 390.6L280.7 409.6" fill="none" stroke-width="1"/>
<path d="M280.7 409.6L297.8 391.7" fill="none" stroke-width="1"/>
<path d="M281.7 410.3L303.7 394.7" fill="none" stroke-width="1"/>
<path d="M281.7 408.3L300.5 395.2" fill="none" stroke-width="1"/>
<path d="M310.2 398.8L312.6 401.4L310.4 404.6" fill="none" stroke-width="1"/>
<path d="M282.2 434.1C284.3 432.5 291 428 294.8 424.4C298.6 420.8 302.5 416 305.2 412.5C307.9 409 310.1 405.1 311.1 403.6" fill="none" stroke-width="1"/>
<path d="M234.7 447.4C236.8 447.6 242.7 449.1 247.3 448.9C251.9 448.6 257.7 447.5 262.1 445.9C266.6 444.3 271.5 440.9 274 439.3C276.5 437.7 276.5 436.8 277 436.3" fill="none" stroke-width="1"/>
<circle cx="273.7" cy="434.1" r="1.6" fill="#000" stroke="none"/>
<path d="M273.7 434.1L323.8 463" fill="none" stroke-width="1"/>
<path d="M323.8 463L283 487" fill="none" stroke-width="1"/>
<path d="M279 489.4L276.5 490.8" fill="none" stroke-width="1"/>
<path d="M272.5 493.2L227.7 519.4" fill="none" stroke-width="1"/>
<path d="M227.7 519.4L252 533.8" fill="none" stroke-width="1"/>
<path d="M255.5 535.9L257.8 537.3" fill="none" stroke-width="1"/>
<path d="M261 539.2L289.5 556.1" fill="none" stroke-width="1"/>
<path d="M187.1 321.4L233.2 348" fill="none" stroke-width="1"/>
<path d="M274 371.5L353.5 417.4" fill="none" stroke-width="1"/>
<path d="M368.6 426.1L390.6 438.8" fill="none" stroke-width="1"/>
<path d="M416.1 453.5L431.5 462.3" fill="none" stroke-width="1"/>
<path d="M443.7 469.4L472.6 486" fill="none" stroke-width="1"/>
<path d="M524 515.7L549.3 530.3" fill="none" stroke-width="1"/>
<path d="M611.9 566.4L651.3 589.1" fill="none" stroke-width="1"/>
<path d="M663 595.9L684.9 608.5" fill="none" stroke-width="1"/>
<path d="M370.5 446.2C369.9 446.6 367.9 447.8 366.7 448.4C365.4 449 364.1 449.4 362.9 449.6C361.7 449.8 360.5 449.8 359.4 449.7C358.3 449.5 357.2 449.2 356.3 448.7C355.4 448.2 354.5 447.5 353.7 446.7C353 445.8 352.4 444.8 351.9 443.7C351.4 442.6 351 441.3 350.7 439.9C350.5 438.6 350.4 437.1 350.4 435.5C350.4 434 350.6 432.3 350.9 430.7C351.2 429 351.6 427.3 352.2 425.6C352.7 423.9 353.4 422.2 354.2 420.6C355 418.9 355.9 417.3 356.9 415.8C357.8 414.2 358.9 412.7 360 411.4C361.2 410.1 362.4 408.8 363.6 407.7C364.8 406.6 366.1 405.7 367.4 404.9C368.7 404.1 370 403.4 371.2 403C372.5 402.5 373.8 402.2 375 402.1C376.1 402 377.3 402.1 378.4 402.3C379.4 402.6 380.4 403 381.3 403.6C382.2 404.2 383 405 383.7 405.9C384.4 406.8 384.9 407.9 385.4 409.1C385.8 410.3 386.1 411.7 386.3 413.1C386.4 414.5 386.5 416.1 386.4 417.7C386.2 419.2 386 420.9 385.6 422.6C385.3 424.3 384.4 426.8 384.1 427.7" fill="none" stroke-width="1"/>
<path d="M370.6 443.2C370 443.6 368.4 444.9 367.3 445.5C366.2 446.1 365.1 446.5 364 446.8C362.9 447.1 361.9 447.3 360.9 447.2C360 447.2 359 447 358.2 446.7C357.4 446.4 356.6 445.9 355.9 445.2C355.2 444.6 354.7 443.8 354.2 442.9C353.7 442 353.3 440.9 353.1 439.8C352.9 438.6 352.7 437.4 352.7 436C352.7 434.7 352.8 433.3 353 431.9C353.2 430.4 353.6 428.9 354 427.4C354.5 425.9 355 424.4 355.7 422.9C356.3 421.4 357.1 419.9 357.9 418.5C358.7 417.1 359.6 415.7 360.6 414.5C361.5 413.2 362.5 412 363.6 410.9C364.6 409.8 365.8 408.9 366.9 408C367.9 407.2 369.1 406.5 370.2 406C371.3 405.4 372.4 405 373.4 404.8C374.5 404.6 375.5 404.5 376.4 404.6C377.4 404.7 378.3 404.9 379.1 405.3C379.9 405.7 380.6 406.3 381.3 407C381.9 407.7 382.5 408.5 382.9 409.5C383.3 410.4 383.6 411.5 383.8 412.7C384 413.9 384.1 415.2 384.1 416.6C384.1 417.9 383.9 419.3 383.6 420.8C383.4 422.3 382.7 424.5 382.5 425.3" fill="none" stroke-width="1"/>
<path d="M348.9 439.4C348.9 438.7 348.5 436.5 348.5 435C348.5 433.4 348.6 431.8 348.9 430.1C349.2 428.4 349.6 426.7 350.1 424.9C350.7 423.2 351.3 421.5 352.1 419.8C352.9 418.1 353.8 416.4 354.8 414.9C355.8 413.3 356.9 411.8 358 410.4C359.2 409.1 360.4 407.8 361.7 406.7C362.9 405.6 364.2 404.6 365.5 403.8C366.8 402.9 368.1 402.3 369.4 401.8C370.7 401.4 372 401.1 373.2 401C374.4 400.9 376.1 401.2 376.6 401.3" fill="none" stroke-width="1"/>
<path d="M384.1 427.7L382.5 425.3" fill="none" stroke-width="1"/>
<path d="M364.5 449.7C365.3 448.9 367.9 446.1 369.4 444.8C370.9 443.5 372.1 442.9 373.4 441.9C374.7 440.9 376.6 439.3 377.3 438.8" fill="none" stroke-width="1.2"/>
<path d="M366.9 444.9C367.6 444.3 369.9 442.6 371.4 441.4C372.8 440.2 374.9 438.5 375.6 437.9" fill="none" stroke-width="1.2"/>
<path d="M369.4 444.8L367.9 442.4" fill="none" stroke-width="1.2"/>
<path d="M373 442.5L371.8 440.1" fill="none" stroke-width="1.2"/>
<path d="M377.3 438.8L375.6 436.9" fill="none" stroke-width="1.2"/>
<path d="M367.2 447.5L369 445.5" fill="none" stroke-width="2"/>
<path d="M371 444.7L372.6 443.3" fill="none" stroke-width="2"/>
<path d="M447.3 491.3C446.7 491.7 444.7 492.9 443.5 493.5C442.2 494.1 440.9 494.5 439.7 494.7C438.5 494.9 437.3 494.9 436.2 494.8C435.1 494.6 434 494.3 433.1 493.8C432.2 493.3 431.3 492.6 430.5 491.8C429.8 490.9 429.2 489.9 428.7 488.8C428.2 487.7 427.8 486.4 427.5 485C427.3 483.7 427.2 482.2 427.2 480.6C427.2 479.1 427.4 477.4 427.7 475.8C428 474.1 428.4 472.4 429 470.7C429.5 469 430.2 467.3 431 465.7C431.8 464 432.7 462.4 433.7 460.9C434.6 459.3 435.7 457.8 436.8 456.5C438 455.2 439.2 453.9 440.4 452.8C441.6 451.7 442.9 450.8 444.2 450C445.5 449.2 446.8 448.5 448 448.1C449.3 447.6 450.6 447.3 451.8 447.2C452.9 447.1 454.1 447.2 455.2 447.4C456.2 447.7 457.2 448.1 458.1 448.7C459 449.3 459.8 450.1 460.5 451C461.2 451.9 461.7 453 462.2 454.2C462.6 455.4 462.9 456.8 463.1 458.2C463.2 459.6 463.3 461.2 463.2 462.8C463 464.3 462.8 466 462.4 467.7C462.1 469.4 461.2 471.9 460.9 472.8" fill="none" stroke-width="1"/>
<path d="M447.4 488.3C446.8 488.7 445.2 490 444.1 490.6C443 491.2 441.9 491.6 440.8 491.9C439.7 492.2 438.7 492.4 437.7 492.3C436.8 492.3 435.8 492.1 435 491.8C434.2 491.5 433.4 491 432.7 490.3C432 489.7 431.5 488.9 431 488C430.5 487.1 430.1 486 429.9 484.9C429.7 483.7 429.5 482.5 429.5 481.1C429.5 479.8 429.6 478.4 429.8 477C430 475.5 430.4 474 430.8 472.5C431.3 471 431.8 469.5 432.5 468C433.1 466.5 433.9 465 434.7 463.6C435.5 462.2 436.4 460.8 437.4 459.6C438.3 458.3 439.3 457.1 440.4 456C441.4 454.9 442.6 454 443.7 453.1C444.7 452.3 445.9 451.6 447 451.1C448.1 450.5 449.2 450.1 450.2 449.9C451.3 449.7 452.3 449.6 453.2 449.7C454.2 449.8 455.1 450 455.9 450.4C456.7 450.8 457.4 451.4 458.1 452.1C458.7 452.8 459.3 453.6 459.7 454.6C460.1 455.5 460.4 456.6 460.6 457.8C460.8 459 460.9 460.3 460.9 461.7C460.9 463 460.7 464.4 460.4 465.9C460.2 467.4 459.5 469.6 459.3 470.4" fill="none" stroke-width="1"/>
<path d="M425.7 484.5C425.7 483.8 425.3 481.6 425.3 480.1C425.3 478.5 425.4 476.9 425.7 475.2C426 473.5 426.4 471.8 426.9 470C427.5 468.3 428.1 466.6 428.9 464.9C429.7 463.2 430.6 461.5 431.6 460C432.6 458.4 433.7 456.9 434.8 455.5C436 454.2 437.2 452.9 438.5 451.8C439.7 450.7 441 449.7 442.3 448.9C443.6 448 444.9 447.4 446.2 446.9C447.5 446.5 448.8 446.2 450 446.1C451.2 446 452.9 446.3 453.4 446.4" fill="none" stroke-width="1"/>
<path d="M460.9 472.8L459.3 470.4" fill="none" stroke-width="1"/>
<path d="M441.3 494.8C442.1 494 444.7 491.2 446.2 489.9C447.7 488.6 448.9 488 450.2 487C451.5 486 453.4 484.4 454.1 483.9" fill="none" stroke-width="1.2"/>
<path d="M443.7 490C444.4 489.4 446.8 487.7 448.2 486.5C449.6 485.3 451.7 483.6 452.4 483" fill="none" stroke-width="1.2"/>
<path d="M446.2 489.9L444.7 487.5" fill="none" stroke-width="1.2"/>
<path d="M449.8 487.6L448.6 485.2" fill="none" stroke-width="1.2"/>
<path d="M454.1 483.9L452.4 482" fill="none" stroke-width="1.2"/>
<path d="M444 492.6L445.8 490.6" fill="none" stroke-width="2"/>
<path d="M447.8 489.8L449.4 488.4" fill="none" stroke-width="2"/>
<path d="M426.6 436.1C427.5 436.6 428.3 437.4 428.9 438.3C429.6 439.2 430.1 440.3 430.4 441.6C430.7 442.8 430.9 444.2 430.9 445.7C430.9 447.2 430.7 448.8 430.4 450.4C430 452 429.5 453.7 428.9 455.4C428.2 457 427.4 458.7 426.5 460.3C425.6 461.9 424.5 463.4 423.4 464.8C422.3 466.2 421.1 467.5 419.9 468.6C418.6 469.7 417.3 470.7 416 471.4C414.7 472.1 413.4 472.7 412.2 473.1C411 473.4 409.7 473.5 408.6 473.4C407.5 473.3 406.5 473 405.6 472.5C404.7 472 403.9 471.2 403.3 470.3C402.6 469.4 402.1 468.3 401.8 467.1C401.5 465.8 401.3 464.4 401.3 462.9C401.3 461.4 401.5 459.8 401.9 458.2C402.2 456.6 402.7 454.9 403.3 453.2C404 451.6 404.8 449.9 405.7 448.3C406.6 446.7 407.7 445.2 408.8 443.8C409.9 442.4 411.1 441.1 412.4 440C413.6 438.9 414.9 437.9 416.2 437.2C417.5 436.5 418.8 435.9 420 435.6C421.2 435.2 422.5 435.1 423.6 435.2C424.7 435.3 425.7 435.6 426.6 436.1Z" fill="none" stroke-width="1"/>
<path d="M389 463.3C388.7 463 387.6 462.3 387.1 461.6C386.5 461 386 460.2 385.7 459.3C385.3 458.4 385.1 457.4 384.9 456.3C384.7 455.2 384.7 454 384.8 452.8C384.8 451.6 385 450.3 385.2 449C385.5 447.7 385.9 446.3 386.4 445C386.8 443.7 387.4 442.3 388.1 441C388.7 439.7 389.5 438.4 390.3 437.2C391.1 436 391.9 434.8 392.9 433.8C393.8 432.7 394.8 431.7 395.8 430.8C396.7 429.9 397.8 429.1 398.8 428.5C399.8 427.8 400.9 427.3 401.9 426.9C402.9 426.5 403.9 426.2 404.9 426C405.8 425.9 406.8 425.9 407.6 426.1C408.5 426.2 409.6 426.8 410 426.9" fill="none" stroke-width="1"/>
<path d="M426.6 436.1L410 426.9" fill="none" stroke-width="1"/>
<path d="M405.6 472.5L389 463.3" fill="none" stroke-width="1"/>
<path d="M425.5 438.7C426.3 439.1 427 439.8 427.6 440.6C428.1 441.4 428.6 442.3 428.8 443.4C429.1 444.5 429.3 445.7 429.3 447C429.2 448.3 429.1 449.7 428.8 451.1C428.5 452.5 428.1 454 427.5 455.4C426.9 456.9 426.2 458.4 425.4 459.7C424.7 461.1 423.7 462.4 422.8 463.6C421.8 464.8 420.7 466 419.7 466.9C418.6 467.9 417.4 468.7 416.3 469.4C415.2 470 414.1 470.5 413 470.8C411.9 471.1 410.9 471.2 409.9 471.1C409 471.1 408 470.8 407.3 470.3C406.5 469.9 405.8 469.2 405.2 468.4C404.7 467.6 404.2 466.7 404 465.6C403.7 464.5 403.5 463.3 403.5 462C403.6 460.7 403.7 459.3 404 457.9C404.3 456.5 404.7 455 405.3 453.6C405.9 452.1 406.6 450.6 407.4 449.3C408.1 447.9 409.1 446.6 410 445.4C411 444.2 412.1 443 413.1 442.1C414.2 441.1 415.4 440.3 416.5 439.6C417.6 439 418.7 438.5 419.8 438.2C420.9 437.9 421.9 437.8 422.9 437.9C423.8 437.9 424.8 438.2 425.5 438.7Z" fill="none" stroke-width="1"/>
<path d="M424.8 440.6C425.5 441 426.1 441.6 426.6 442.3C427.1 443 427.5 443.8 427.7 444.8C428 445.7 428.1 446.8 428.1 448C428.1 449.1 427.9 450.4 427.7 451.6C427.4 452.8 427 454.2 426.5 455.4C426 456.7 425.4 458 424.7 459.2C424 460.4 423.2 461.6 422.3 462.7C421.5 463.8 420.5 464.8 419.6 465.6C418.6 466.4 417.6 467.2 416.6 467.8C415.7 468.3 414.6 468.8 413.7 469C412.8 469.3 411.8 469.4 411 469.3C410.1 469.2 409.3 469 408.6 468.6C407.9 468.2 407.3 467.6 406.8 466.9C406.3 466.2 405.9 465.4 405.7 464.4C405.4 463.5 405.3 462.4 405.3 461.2C405.3 460.1 405.5 458.8 405.7 457.6C406 456.4 406.4 455 406.9 453.8C407.4 452.5 408 451.2 408.7 450C409.4 448.8 410.2 447.6 411.1 446.5C411.9 445.4 412.9 444.4 413.8 443.6C414.8 442.8 415.8 442 416.8 441.4C417.7 440.9 418.8 440.4 419.7 440.2C420.6 439.9 421.6 439.8 422.4 439.9C423.3 440 424.1 440.2 424.8 440.6Z" fill="none" stroke-width="1"/>
<path d="M423.4 443.4C424 443.7 424.5 444.2 424.9 444.8C425.2 445.3 425.6 446 425.8 446.8C426 447.6 426.1 448.4 426.1 449.4C426.1 450.3 425.9 451.3 425.7 452.3C425.5 453.3 425.2 454.4 424.8 455.4C424.4 456.4 423.9 457.4 423.3 458.4C422.8 459.4 422.1 460.4 421.4 461.2C420.8 462.1 420 462.9 419.2 463.6C418.5 464.2 417.6 464.8 416.9 465.3C416.1 465.8 415.2 466.1 414.5 466.3C413.7 466.5 413 466.6 412.3 466.6C411.6 466.5 410.9 466.3 410.4 466C409.8 465.7 409.3 465.2 408.9 464.6C408.6 464.1 408.2 463.4 408 462.6C407.8 461.8 407.7 461 407.7 460C407.7 459.1 407.9 458.1 408.1 457.1C408.3 456.1 408.6 455 409 454C409.4 453 409.9 452 410.5 451C411 450 411.7 449 412.4 448.2C413 447.3 413.8 446.5 414.6 445.8C415.3 445.2 416.2 444.6 416.9 444.1C417.7 443.6 418.6 443.3 419.3 443.1C420.1 442.9 420.8 442.8 421.5 442.8C422.2 442.9 422.9 443.1 423.4 443.4Z" fill="none" stroke-width="1.5"/>
<path d="M421.6 447.1C422 447.3 422.3 447.6 422.6 448C422.9 448.4 423.1 448.9 423.2 449.4C423.4 449.9 423.5 450.6 423.5 451.2C423.4 451.8 423.4 452.5 423.2 453.2C423.1 453.9 422.9 454.7 422.6 455.4C422.3 456.1 422 456.8 421.6 457.5C421.2 458.2 420.7 458.8 420.2 459.4C419.8 460 419.2 460.6 418.7 461C418.2 461.5 417.6 461.9 417.1 462.3C416.5 462.6 416 462.8 415.4 463C414.9 463.1 414.4 463.2 413.9 463.1C413.4 463.1 413 462.9 412.6 462.7C412.2 462.5 411.9 462.2 411.6 461.8C411.3 461.4 411.1 460.9 411 460.4C410.8 459.9 410.7 459.2 410.7 458.6C410.8 458 410.8 457.3 411 456.6C411.1 455.9 411.3 455.1 411.6 454.4C411.9 453.7 412.2 453 412.6 452.3C413 451.6 413.5 451 414 450.4C414.4 449.8 415 449.2 415.5 448.8C416 448.3 416.6 447.9 417.1 447.5C417.7 447.2 418.2 447 418.8 446.8C419.3 446.7 419.8 446.6 420.3 446.7C420.8 446.7 421.2 446.9 421.6 447.1Z" fill="none" stroke-width="1.2"/>
<path d="M414.6 462.6C414.4 462.6 413.8 462.7 413.4 462.7C413 462.7 412.6 462.7 412.3 462.5C411.9 462.4 411.6 462.2 411.3 462C411.1 461.8 410.8 461.5 410.6 461.1C410.4 460.8 410.3 460.4 410.2 460C410 459.6 410 459.1 410 458.6C409.9 458.1 410 457.6 410 457C410.1 456.5 410.2 455.9 410.4 455.3C410.5 454.8 410.7 454.2 411 453.6C411.2 453 411.5 452.5 411.8 451.9C412.1 451.4 412.5 450.8 412.9 450.4C413.2 449.9 413.6 449.4 414.1 449C414.5 448.5 414.9 448.1 415.3 447.8C415.8 447.5 416.2 447.2 416.7 447C417.1 446.7 417.8 446.5 418 446.4" fill="none" stroke-width="1.6"/>
<path d="M475.5 482.3C475 482.9 473.3 484.6 472.6 486.2C471.9 487.8 471.4 490.4 471.4 492.2C471.4 494 471.9 496 472.4 497.1C472.9 498.2 473.9 498.7 474.2 499" fill="none" stroke-width="1"/>
<path d="M475.5 482.3L478.5 480.6L482.3 480.4L493.4 486.6" fill="none" stroke-width="1"/>
<path d="M474.2 499L484.1 503.9" fill="none" stroke-width="1"/>
<path d="M508.3 472.4C507.3 472.9 503.6 474.1 502.1 475.5C500.7 476.9 501.1 479.1 499.6 481C498.2 482.9 495.2 484.1 493.4 486.6C491.5 489.1 490.1 492.9 488.5 495.9C486.9 498.9 485.1 502.1 484.1 504.6C483.1 507.1 483.4 508.6 482.3 510.7C481.2 512.8 478 514.4 477.3 516.9C476.6 519.4 476.9 522.9 477.9 525.6C478.9 528.3 481.7 530.7 483.5 533C485.3 535.3 486.6 537.7 488.5 539.2C490.4 540.8 492.4 541.9 494.7 542.3C497 542.7 500.1 541.9 502.1 541.7C504.2 541.5 505.4 541.1 507 541.1C508.6 541.1 510.1 542.4 512 541.7C513.9 541 516.1 538.5 518.2 536.7C520.3 535 523.4 532.1 524.4 531.2" fill="none" stroke-width="1"/>
<path d="M508.3 472.4C509.3 472.4 512.2 472.2 514.5 472.4C516.8 472.6 519.4 472.9 521.9 473.6C524.4 474.3 527.2 475.2 529.3 476.7C531.4 478.1 533.2 480.3 534.3 482.3C535.4 484.3 535.5 486.6 536.1 488.5C536.7 490.4 537.8 492.1 538 494C538.2 495.9 537.3 497.4 537.4 499.6C537.5 501.8 538.5 504.5 538.6 507C538.7 509.5 538.4 512.8 538 514.5C537.6 516.2 536.4 517 536.1 517.5" fill="none" stroke-width="1"/>
<path d="M506.4 480.4L484.1 515.1" fill="none" stroke-width="1"/>
<path d="M509.5 482.3L486.6 518.2" fill="none" stroke-width="1"/>
<path d="M506.4 480.4L509.5 482.3" fill="none" stroke-width="1"/>
<path d="M502.1 475.5C502.6 476 504.3 477.7 505 478.5C505.7 479.3 506.2 480.1 506.4 480.4" fill="none" stroke-width="1"/>
<path d="M484.1 515.1L482.3 510.7" fill="none" stroke-width="1"/>
<path d="M508.9 490.9C507.9 492.3 505 496.4 503 499.5C501 502.6 498.9 506.8 497.1 509.5C495.4 512.2 494 514.3 492.5 516C491 517.7 488.8 519.2 488 519.8" fill="none" stroke-width="1"/>
<path d="M516.9 476.1C517.1 476.9 517.6 479.6 518 481C518.4 482.4 518.5 483 519.4 484.8C520.2 486.6 521.6 489.9 523.1 491.6C524.6 493.4 526.5 494.8 528.1 495.3C529.8 495.8 531.6 495.1 533 494.8C534.4 494.5 536.1 493.6 536.7 493.4" fill="none" stroke-width="1"/>
<path d="M519.4 473.6C519.8 473.8 521.2 474.3 522 474.6C522.8 474.9 524 475.4 524.4 475.5" fill="none" stroke-width="2"/>
<path d="M523.1 491.6C523.6 492.1 525 493.7 526 494.4C527 495.1 528.8 495.6 529.3 495.9" fill="none" stroke-width="2"/>
<path d="M536.7 493.4L538 494" fill="none" stroke-width="1"/>
<path d="M486.6 518.2C486.2 519 485 521.4 484.5 523C484 524.6 483.8 526.4 483.8 528C483.8 529.6 484.4 531.8 484.5 532.5" fill="none" stroke-width="1"/>
<path d="M486.6 526.8C487.7 526.4 490.9 525 493 524.2C495.1 523.4 497.3 521.5 499 521.9C500.7 522.3 502 525.3 503.3 526.8C504.6 528.3 506 530 507 531C508 532 509.2 531.8 509.5 533C509.8 534.2 508.8 536.6 508.5 538C508.2 539.4 507.8 540.6 507.6 541.1" fill="none" stroke-width="1"/>
<path d="M509.5 533L511.5 541.5" fill="none" stroke-width="1"/>
<path d="M514.6 480.3C514.8 480.4 514.9 480.5 514.9 480.6C515 480.7 515.1 480.8 515.1 480.9C515.2 481.1 515.2 481.3 515.2 481.4C515.2 481.6 515.2 481.8 515.2 482C515.2 482.1 515.1 482.3 515.1 482.5C515 482.7 514.9 482.9 514.8 483.1C514.7 483.2 514.6 483.4 514.5 483.5C514.3 483.7 514.2 483.8 514 483.9C513.9 484.1 513.8 484.2 513.6 484.2C513.5 484.3 513.3 484.4 513.2 484.4C513 484.4 512.9 484.4 512.7 484.4C512.6 484.4 512.5 484.4 512.4 484.3C512.2 484.2 512.1 484.1 512.1 484C512 483.9 511.9 483.8 511.9 483.7C511.8 483.5 511.8 483.3 511.8 483.2C511.8 483 511.8 482.8 511.8 482.6C511.8 482.5 511.9 482.3 511.9 482.1C512 481.9 512.1 481.7 512.2 481.6C512.3 481.4 512.4 481.2 512.5 481.1C512.7 480.9 512.8 480.8 513 480.7C513.1 480.5 513.2 480.4 513.4 480.4C513.5 480.3 513.7 480.2 513.8 480.2C514 480.2 514.1 480.2 514.3 480.2C514.4 480.2 514.5 480.2 514.6 480.3Z" fill="none" stroke-width="1"/>
<path d="M530.8 482.1C530.9 482.2 531 482.3 531 482.4C531.1 482.5 531.2 482.6 531.2 482.8C531.3 482.9 531.3 483.1 531.3 483.2C531.3 483.4 531.3 483.6 531.3 483.8C531.3 483.9 531.2 484.1 531.2 484.3C531.1 484.5 531 484.7 530.9 484.9C530.8 485 530.7 485.2 530.6 485.3C530.4 485.5 530.3 485.6 530.1 485.7C530 485.9 529.9 486 529.7 486C529.6 486.1 529.4 486.2 529.3 486.2C529.1 486.2 529 486.2 528.8 486.2C528.7 486.2 528.6 486.2 528.5 486.1C528.3 486 528.2 485.9 528.2 485.8C528.1 485.7 528 485.6 528 485.5C527.9 485.3 527.9 485.1 527.9 485C527.9 484.8 527.9 484.6 527.9 484.4C527.9 484.3 528 484.1 528 483.9C528.1 483.7 528.2 483.5 528.3 483.4C528.4 483.2 528.5 483 528.6 482.9C528.8 482.7 528.9 482.6 529.1 482.5C529.2 482.3 529.3 482.2 529.5 482.2C529.6 482.1 529.8 482 529.9 482C530.1 482 530.2 482 530.4 482C530.5 482 530.6 482 530.8 482.1Z" fill="none" stroke-width="1"/>
<path d="M490.8 519.5C491 519.6 491.1 519.7 491.1 519.8C491.2 519.9 491.3 520 491.3 520.1C491.4 520.3 491.4 520.5 491.4 520.6C491.4 520.8 491.4 521 491.4 521.2C491.4 521.3 491.3 521.5 491.3 521.7C491.2 521.9 491.1 522.1 491 522.2C490.9 522.4 490.8 522.6 490.7 522.7C490.5 522.9 490.4 523 490.2 523.1C490.1 523.3 490 523.4 489.8 523.4C489.7 523.5 489.5 523.6 489.4 523.6C489.2 523.6 489.1 523.6 488.9 523.6C488.8 523.6 488.7 523.6 488.6 523.5C488.4 523.4 488.3 523.3 488.3 523.2C488.2 523.1 488.1 523 488.1 522.9C488 522.7 488 522.5 488 522.4C488 522.2 488 522 488 521.8C488 521.7 488.1 521.5 488.1 521.3C488.2 521.1 488.3 520.9 488.4 520.8C488.5 520.6 488.6 520.4 488.7 520.3C488.9 520.1 489 520 489.1 519.9C489.3 519.7 489.4 519.6 489.6 519.6C489.7 519.5 489.9 519.4 490 519.4C490.2 519.4 490.3 519.4 490.5 519.4C490.6 519.4 490.7 519.4 490.8 519.5Z" fill="none" stroke-width="1"/>
<path d="M498 535.4C498.2 535.5 498.3 535.6 498.3 535.7C498.4 535.8 498.5 535.9 498.5 536C498.6 536.2 498.6 536.4 498.6 536.5C498.6 536.7 498.6 536.9 498.6 537.1C498.6 537.2 498.5 537.4 498.5 537.6C498.4 537.8 498.3 538 498.2 538.1C498.1 538.3 498 538.5 497.9 538.6C497.7 538.8 497.6 538.9 497.4 539C497.3 539.2 497.2 539.3 497 539.3C496.9 539.4 496.7 539.5 496.6 539.5C496.4 539.5 496.3 539.5 496.1 539.5C496 539.5 495.9 539.5 495.8 539.4C495.6 539.3 495.5 539.2 495.5 539.1C495.4 539 495.3 538.9 495.3 538.8C495.2 538.6 495.2 538.4 495.2 538.3C495.2 538.1 495.2 537.9 495.2 537.7C495.2 537.6 495.3 537.4 495.3 537.2C495.4 537 495.5 536.8 495.6 536.6C495.7 536.5 495.8 536.3 495.9 536.2C496.1 536 496.2 535.9 496.3 535.8C496.5 535.6 496.6 535.5 496.8 535.5C496.9 535.4 497.1 535.3 497.2 535.3C497.4 535.3 497.5 535.3 497.7 535.3C497.8 535.3 497.9 535.3 498 535.4Z" fill="none" stroke-width="1"/>
<path d="M515.2 533.2C515.4 533.3 515.5 533.4 515.5 533.5C515.6 533.6 515.7 533.7 515.7 533.9C515.8 534 515.8 534.2 515.8 534.3C515.8 534.5 515.8 534.7 515.8 534.9C515.8 535 515.7 535.2 515.7 535.4C515.6 535.6 515.5 535.8 515.4 536C515.3 536.1 515.2 536.3 515.1 536.4C514.9 536.6 514.8 536.7 514.6 536.8C514.5 537 514.4 537.1 514.2 537.1C514.1 537.2 513.9 537.3 513.8 537.3C513.6 537.3 513.5 537.3 513.3 537.3C513.2 537.3 513.1 537.3 513 537.2C512.8 537.1 512.7 537 512.7 536.9C512.6 536.8 512.5 536.7 512.5 536.6C512.4 536.4 512.4 536.2 512.4 536.1C512.4 535.9 512.4 535.7 512.4 535.5C512.4 535.4 512.5 535.2 512.5 535C512.6 534.8 512.7 534.6 512.8 534.5C512.9 534.3 513 534.1 513.1 534C513.3 533.8 513.4 533.7 513.6 533.6C513.7 533.4 513.8 533.3 514 533.3C514.1 533.2 514.3 533.1 514.4 533.1C514.6 533.1 514.7 533.1 514.9 533.1C515 533.1 515.1 533.1 515.2 533.2Z" fill="none" stroke-width="1"/>
<path d="M536.5 494.5C535.1 494.6 530.8 495.9 528.1 495.3C525.5 494.7 522.9 491.7 520.6 490.9C518.3 490.1 516.5 489.9 514.5 490.3C512.5 490.7 510.8 492 508.9 493.4C507 494.8 505.1 496.1 503.3 498.4C501.6 500.7 499.4 504.1 498.4 507C497.4 509.9 497 513.2 497.1 515.7C497.2 518.2 498.7 520.9 499 521.9" fill="none" stroke-width="1"/>
<path d="M536.1 516.9C536.3 515.7 537.5 511.9 537.4 509.5C537.3 507.1 536.5 504.4 535.5 502.7C534.5 500.9 533.1 499.4 531.2 499C529.4 498.6 526.8 499 524.4 500.2C522 501.4 519 504 516.9 506.4C514.8 508.8 513 511.7 512 514.5C511 517.3 510.5 520.5 510.7 523.1C510.9 525.7 512 528.2 513.2 529.9C514.5 531.5 516.3 532.8 518.2 533C520.1 533.2 522.2 532.4 524.4 531.2C526.6 530 530.1 526.5 531.2 525.6" fill="none" stroke-width="1"/>
<path d="M535.5 514.5C535.5 513.2 535.9 509.1 535.5 507C535.1 504.9 534 503.1 533 502.1C532 501.1 530.8 500.8 529.3 500.8C527.8 500.8 525.6 501.3 524 502.3C522.4 503.3 521 504.8 519.4 507C517.8 509.2 515.5 513 514.5 515.7C513.5 518.4 513 520.9 513.2 523.1C513.4 525.3 514.7 527.5 515.7 528.7C516.7 529.9 518 530.5 519.4 530.5C520.8 530.5 522.8 529.7 524.4 528.7C526 527.7 528.5 525.1 529.3 524.4" fill="none" stroke-width="1"/>
<path d="M536.1 516.9L535.5 514.5" fill="none" stroke-width="1"/>
<path d="M531.2 525.6L529.3 524.4" fill="none" stroke-width="1"/>
<path d="M524.4 503.3C524.4 504.1 524.4 506.6 524.2 508C524 509.4 523.6 510.7 523.1 512C522.6 513.3 521.8 514.8 521 516C520.2 517.2 519.2 518.5 518.2 519.4C517.2 520.3 515.4 521.2 514.8 521.6" fill="none" stroke-width="1"/>
<path d="M670.5 581.5C671.3 582 671.9 582.5 672.4 583.2C673 583.9 673.4 584.8 673.7 585.7C674 586.7 674.1 587.7 674.2 588.8C674.2 589.9 674.1 591.1 673.9 592.3C673.7 593.5 673.4 594.8 672.9 596C672.5 597.2 671.9 598.5 671.2 599.6C670.6 600.7 669.8 601.9 669 602.9C668.1 603.9 667.2 604.8 666.3 605.6C665.3 606.4 664.3 607 663.4 607.6C662.4 608.1 661.4 608.5 660.4 608.7C659.5 608.9 658.5 608.9 657.7 608.8C656.8 608.7 656 608.5 655.2 608.1C654.5 607.6 653.9 607.1 653.4 606.4C652.8 605.7 652.4 604.8 652.1 603.9C651.8 602.9 651.7 601.9 651.6 600.8C651.6 599.7 651.7 598.5 651.9 597.3C652.1 596.1 652.4 594.8 652.9 593.6C653.3 592.4 653.9 591.1 654.6 590C655.2 588.9 656 587.7 656.8 586.7C657.7 585.7 658.6 584.8 659.5 584C660.5 583.2 661.5 582.6 662.4 582C663.4 581.5 664.4 581.1 665.4 580.9C666.3 580.7 667.3 580.7 668.1 580.8C669 580.9 669.8 581.1 670.5 581.5Z" fill="none" stroke-width="1"/>
<path d="M654.9 607.6C654.6 607.4 653.6 607.1 653 606.7C652.4 606.4 651.9 605.9 651.5 605.3C651.1 604.7 650.7 604 650.4 603.3C650.1 602.6 649.9 601.7 649.8 600.9C649.7 600 649.7 599.1 649.7 598.1C649.8 597.1 650 596.1 650.2 595.1C650.4 594.1 650.7 593.1 651.1 592.1C651.5 591.1 652 590.1 652.6 589.1C653.1 588.2 653.7 587.2 654.4 586.4C655 585.5 655.7 584.7 656.5 584C657.2 583.2 658 582.6 658.8 582C659.6 581.4 660.4 581 661.2 580.6C662 580.2 662.9 580 663.6 579.8C664.4 579.6 665.2 579.6 665.9 579.6C666.7 579.7 667.4 579.9 668 580.1C668.6 580.4 669.4 581.1 669.7 581.2" fill="none" stroke-width="1"/>
<path d="M668.5 587.4C668.9 587.7 669.3 588 669.6 588.4C669.9 588.8 670.1 589.3 670.3 589.9C670.4 590.4 670.5 591.1 670.5 591.7C670.5 592.4 670.5 593.1 670.3 593.8C670.2 594.5 670 595.3 669.7 596C669.4 596.7 669.1 597.5 668.7 598.1C668.3 598.8 667.8 599.5 667.3 600.1C666.8 600.7 666.3 601.3 665.7 601.8C665.2 602.2 664.6 602.7 664 603C663.4 603.3 662.9 603.5 662.3 603.7C661.7 603.8 661.2 603.9 660.7 603.8C660.2 603.8 659.7 603.6 659.3 603.4C658.9 603.1 658.5 602.8 658.2 602.4C657.9 602 657.7 601.5 657.5 600.9C657.4 600.4 657.3 599.7 657.3 599.1C657.3 598.4 657.3 597.7 657.5 597C657.6 596.3 657.8 595.5 658.1 594.8C658.4 594.1 658.7 593.3 659.1 592.6C659.5 592 660 591.3 660.5 590.7C661 590.1 661.5 589.5 662.1 589C662.6 588.6 663.2 588.1 663.8 587.8C664.4 587.5 664.9 587.3 665.5 587.1C666.1 587 666.6 586.9 667.1 587C667.6 587 668.1 587.2 668.5 587.4Z" fill="none" stroke-width="1"/>
<path d="M663.7 604.4C663.5 604.4 662.8 604.5 662.4 604.5C661.9 604.5 661.5 604.4 661.2 604.3C660.8 604.1 660.5 603.9 660.2 603.7C659.9 603.4 659.6 603.1 659.4 602.7C659.2 602.3 659 601.9 658.9 601.4C658.8 601 658.7 600.5 658.7 599.9C658.7 599.4 658.7 598.8 658.8 598.2C658.9 597.6 659 597 659.2 596.4C659.4 595.8 659.6 595.2 659.9 594.6C660.1 594 660.5 593.4 660.8 592.9C661.2 592.3 661.5 591.8 662 591.3C662.4 590.8 662.8 590.3 663.3 589.9C663.7 589.5 664.2 589.2 664.6 588.8C665.1 588.5 665.6 588.3 666.1 588.1C666.5 587.9 667.2 587.8 667.5 587.7" fill="none" stroke-width="1"/>
<path d="M684.9 608.7C685.9 607.4 689 602.7 690.9 601.1C692.8 599.5 694.2 599.6 696.5 599.1C698.8 598.6 703.2 598.1 704.6 597.9" fill="none" stroke-width="1"/>
<path d="M704.6 597.9L708.6 601.5" fill="none" stroke-width="1"/>
<path d="M684.9 608.7C684.5 610.1 682.8 614.6 682.5 617.2C682.2 619.8 682.7 622.2 683.3 624.4C683.9 626.5 684.2 628.4 686.1 630.1C688 631.9 692.9 634.2 694.9 634.9C696.9 635.6 697.7 634.6 698.2 634.5" fill="none" stroke-width="1"/>
<path d="M691.2 602.3L700.6 606.7" fill="none" stroke-width="1"/>
<path d="M682.5 617.6L692.5 623.2" fill="none" stroke-width="1"/>
<path d="M713.4 603.5C714.5 604.6 718.6 607.6 719.9 609.9C721.2 612.2 721.2 614.7 721.1 617.2C721 619.8 720 623.1 719.1 625.2C718.2 627.4 717.6 628.4 715.9 630.1C714.1 631.9 710.6 634.5 708.6 635.7C706.6 636.9 705.5 637.5 703.8 637.3C702.1 637.1 699.1 635 698.2 634.5" fill="none" stroke-width="1"/>
<path d="M712.7 603.2L714 605.5" fill="none" stroke-width="2"/>
<path d="M700.6 606.7C699.9 607.9 697.5 611.8 696.5 614C695.5 616.2 694.6 617.7 694.3 620C694 622.3 694 625.6 694.5 628C695 630.4 696.6 633.2 697 634.3" fill="none" stroke-width="1.2"/>
<path d="M695.7 620C695.8 621.2 695.6 624.8 696 627C696.4 629.2 697.9 632.4 698.3 633.5" fill="none" stroke-width="3"/>
<path d="M702 607.5C701.4 608.5 699.4 611.6 698.5 613.5C697.6 615.4 696.8 618.1 696.5 619" fill="none" stroke-width="1.6"/>
<path d="M703.5 608.5C704 608.2 705.4 606.8 706.5 606.8C707.6 606.8 709.4 608 710 608.3" fill="none" stroke-width="1.6"/>
<path d="M712.6 612.3C713 613 714.5 614.8 715 616.5C715.5 618.2 715.7 621.5 715.8 622.5" fill="none" stroke-width="2.6"/>
<path d="M704 629.8C704.7 629.9 706.7 630.8 708 630.6C709.3 630.4 711.3 628.9 712 628.6" fill="none" stroke-width="2.2"/>
<path d="M698.5 632.5L709 620.5L711.5 612" fill="none" stroke-width="1"/>
<path d="M700.5 633.5L711 622L713 615" fill="none" stroke-width="1"/>
<path d="M703 611L707.5 612.5L704 618.5L699.5 617" fill="none" stroke-width="1"/>
<path d="M716.5 612L720.5 609.3" fill="none" stroke-width="1"/>
<path d="M716 625.5L719.5 626" fill="none" stroke-width="1"/>
<path d="M706 632L707 636.3" fill="none" stroke-width="1"/>
<path d="M711 630L713.5 632.3" fill="none" stroke-width="1"/>
<path d="M699.5 630.5L703.8 637" fill="none" stroke-width="1"/>
<path d="M643.4 627.1L657.3 634.4" fill="none" stroke-width="1"/>
<path d="M646.4 621.3L660.3 628.6" fill="none" stroke-width="1"/>
<path d="M642.6 626.7L647.2 621.7" fill="none" stroke-width="1.5"/>
<path d="M644.6 627.7L649.2 622.7" fill="none" stroke-width="1.5"/>
<path d="M646.5 628.8L651.2 623.8" fill="none" stroke-width="1.5"/>
<path d="M648.5 629.8L653.2 624.8" fill="none" stroke-width="1.5"/>
<path d="M650.5 630.9L655.2 625.9" fill="none" stroke-width="1.5"/>
<path d="M652.5 631.9L657.2 626.9" fill="none" stroke-width="1.5"/>
<path d="M654.5 633L659.1 628" fill="none" stroke-width="1.5"/>
<path d="M656.5 634L661.1 629" fill="none" stroke-width="1.5"/>
<path d="M659.8 627.8L667.2 633.7" fill="none" stroke-width="1"/>
<path d="M657.9 635.2L664.7 639.2" fill="none" stroke-width="1"/>
<path d="M673.5 633.5C673.9 633.7 674.2 634 674.5 634.3C674.7 634.6 675 635 675.1 635.4C675.3 635.8 675.4 636.2 675.5 636.7C675.6 637.1 675.6 637.6 675.5 638.1C675.5 638.6 675.4 639.1 675.2 639.6C675 640.1 674.8 640.6 674.6 641.1C674.3 641.5 674 641.9 673.7 642.3C673.3 642.7 672.9 643 672.5 643.3C672.1 643.6 671.7 643.9 671.3 644C670.8 644.2 670.4 644.3 669.9 644.4C669.5 644.4 669.1 644.4 668.7 644.3C668.2 644.2 667.9 644.1 667.5 643.9C667.1 643.7 666.8 643.4 666.5 643.1C666.3 642.8 666 642.4 665.9 642C665.7 641.6 665.6 641.2 665.5 640.7C665.4 640.3 665.4 639.8 665.5 639.3C665.5 638.8 665.6 638.3 665.8 637.8C666 637.3 666.2 636.8 666.4 636.4C666.7 635.9 667 635.5 667.3 635.1C667.7 634.7 668.1 634.4 668.5 634.1C668.9 633.8 669.3 633.5 669.7 633.4C670.2 633.2 670.6 633.1 671.1 633C671.5 633 671.9 633 672.3 633.1C672.8 633.2 673.1 633.3 673.5 633.5Z" fill="none" stroke-width="1"/>
<path d="M666.8 643.4C666.7 643.3 666.4 642.9 666.2 642.6C666 642.3 665.8 642 665.7 641.7C665.6 641.3 665.5 640.9 665.5 640.6C665.4 640.2 665.4 639.8 665.5 639.4C665.5 639 665.6 638.6 665.7 638.2C665.8 637.8 665.9 637.4 666.1 637C666.3 636.6 666.5 636.2 666.7 635.9C667 635.5 667.3 635.2 667.5 634.9C667.8 634.6 668.3 634.2 668.5 634.1" fill="none" stroke-width="2.2"/>
<path d="M667.7 636.6L672.7 640.8" fill="none" stroke-width="1"/>
<path d="M669.3 641.6L671.6 635.6" fill="none" stroke-width="1"/>
<path d="M597.3 596.4L643.8 624" fill="none" stroke-width="1"/>
<path d="M288.7 559.2L304.5 567.6" fill="none" stroke-width="1"/>
<path d="M291.7 553.6L307.5 562" fill="none" stroke-width="1"/>
<path d="M287.9 558.8L292.5 554" fill="none" stroke-width="1.5"/>
<path d="M289.9 559.9L294.5 555" fill="none" stroke-width="1.5"/>
<path d="M291.9 560.9L296.4 556.1" fill="none" stroke-width="1.5"/>
<path d="M293.8 562L298.4 557.1" fill="none" stroke-width="1.5"/>
<path d="M295.8 563L300.4 558.2" fill="none" stroke-width="1.5"/>
<path d="M297.8 564.1L302.4 559.2" fill="none" stroke-width="1.5"/>
<path d="M299.8 565.1L304.3 560.3" fill="none" stroke-width="1.5"/>
<path d="M301.7 566.2L306.3 561.3" fill="none" stroke-width="1.5"/>
<path d="M303.7 567.2L308.3 562.4" fill="none" stroke-width="1.5"/>
<path d="M317.8 563.3C318.2 563.5 318.6 563.8 319 564.2C319.3 564.5 319.6 565 319.8 565.4C320.1 565.9 320.2 566.4 320.4 566.9C320.5 567.4 320.5 568 320.5 568.5C320.4 569 320.4 569.6 320.2 570.1C320 570.6 319.8 571.2 319.5 571.6C319.3 572.1 318.9 572.6 318.5 573C318.2 573.4 317.7 573.7 317.3 574C316.8 574.3 316.3 574.6 315.8 574.7C315.3 574.9 314.8 575 314.3 575C313.8 575.1 313.3 575 312.8 574.9C312.3 574.8 311.8 574.6 311.4 574.3C311 574.1 310.6 573.8 310.2 573.4C309.9 573.1 309.6 572.6 309.4 572.2C309.1 571.7 309 571.2 308.8 570.7C308.7 570.2 308.7 569.6 308.7 569.1C308.8 568.6 308.8 568 309 567.5C309.2 567 309.4 566.4 309.7 565.9C309.9 565.5 310.3 565 310.7 564.6C311 564.2 311.5 563.9 311.9 563.6C312.4 563.3 312.9 563 313.4 562.9C313.9 562.7 314.4 562.6 314.9 562.6C315.4 562.5 315.9 562.6 316.4 562.7C316.9 562.8 317.4 563 317.8 563.3Z" fill="none" stroke-width="1"/>
<path d="M312.1 574.3C312 574.2 311.4 574 311.1 573.8C310.8 573.6 310.5 573.3 310.2 573.1C310 572.8 309.7 572.5 309.5 572.1C309.4 571.8 309.2 571.4 309.1 571C309 570.7 308.9 570.3 308.8 569.9C308.8 569.5 308.8 569 308.9 568.6C308.9 568.2 309 567.8 309.1 567.4C309.3 567 309.4 566.6 309.6 566.2C309.8 565.8 310.1 565.5 310.4 565.1C310.6 564.8 310.9 564.5 311.3 564.2C311.6 564 311.9 563.7 312.3 563.5C312.7 563.3 313 563.2 313.4 563.1C313.8 563 314.4 562.9 314.6 562.9" fill="none" stroke-width="2.4"/>
<path d="M318.3 565.4C318.6 565.6 318.9 565.8 319.1 566.1C319.4 566.3 319.6 566.6 319.7 566.9C319.9 567.3 320 567.6 320.1 568C320.1 568.4 320.2 568.8 320.1 569.1C320.1 569.5 320.1 569.9 319.9 570.3C319.8 570.7 319.7 571.1 319.5 571.4C319.3 571.7 319 572.1 318.8 572.4C318.5 572.7 318.2 572.9 317.9 573.1C317.5 573.3 317.2 573.5 316.8 573.6C316.5 573.8 316.1 573.8 315.7 573.9C315.4 573.9 315 573.8 314.7 573.8C314.3 573.7 314 573.6 313.7 573.4C313.4 573.2 313.1 573 312.9 572.7C312.6 572.5 312.4 572.2 312.3 571.9C312.1 571.5 312 571.2 311.9 570.8C311.9 570.4 311.8 570 311.9 569.7C311.9 569.3 311.9 568.9 312.1 568.5C312.2 568.1 312.3 567.7 312.5 567.4C312.7 567.1 313 566.7 313.2 566.4C313.5 566.1 313.8 565.9 314.1 565.7C314.5 565.5 314.8 565.3 315.2 565.2C315.5 565 315.9 565 316.3 564.9C316.6 564.9 317 565 317.3 565C317.7 565.1 318 565.2 318.3 565.4Z" fill="none" stroke-width="1"/>
<path d="M318.5 563.5L320.9 567L320 571.5" fill="none" stroke-width="1"/>
<path d="M316.3 566.8L316.8 570.8" fill="none" stroke-width="1"/>
<path d="M307.2 561.4L309.5 563" fill="none" stroke-width="1"/>
<path d="M304.8 568.2L308 571.5" fill="none" stroke-width="1"/>
<path d="M713 550.6C713 550.8 713 550.9 712.9 551.1C712.9 551.3 712.8 551.4 712.8 551.6C712.7 551.7 712.6 551.8 712.5 551.9C712.4 552.1 712.3 552.2 712.1 552.2C712 552.3 711.9 552.4 711.7 552.4C711.6 552.5 711.4 552.5 711.3 552.5C711.2 552.5 711 552.5 710.9 552.4C710.7 552.4 710.6 552.3 710.4 552.2C710.3 552.2 710.2 552.1 710.1 551.9C710 551.8 709.9 551.7 709.8 551.6C709.8 551.4 709.7 551.3 709.7 551.1C709.6 550.9 709.6 550.8 709.6 550.6C709.6 550.4 709.6 550.3 709.7 550.1C709.7 549.9 709.8 549.8 709.8 549.6C709.9 549.5 710 549.4 710.1 549.3C710.2 549.1 710.3 549 710.4 549C710.6 548.9 710.7 548.8 710.9 548.8C711 548.7 711.2 548.7 711.3 548.7C711.4 548.7 711.6 548.7 711.7 548.8C711.9 548.8 712 548.9 712.1 549C712.3 549 712.4 549.1 712.5 549.3C712.6 549.4 712.7 549.5 712.8 549.6C712.8 549.8 712.9 549.9 712.9 550.1C713 550.3 713 550.4 713 550.6Z" fill="none" stroke-width="1.2"/>
<path d="M709.6 552.5L709.6 572.5" fill="none" stroke-width="1"/>
<path d="M712.3 552.5L712.3 572.8" fill="none" stroke-width="1"/>
<path d="M709.6 572.5L710.6 573.5" fill="none" stroke-width="1"/>
<path d="M710.8 572.8L710.8 606.5" fill="none" stroke-width="1"/>
<path d="M630.2 487.1C630.5 487.3 631.5 487.8 632.2 488.3C632.8 488.7 633.4 489.2 634 489.7C634.6 490.2 635.2 490.7 635.8 491.3C636.3 491.8 636.9 492.4 637.4 493C637.9 493.6 638.4 494.3 638.9 494.9C639.4 495.6 639.9 496.3 640.3 497C640.8 497.7 641.2 498.5 641.6 499.2C642 500 642.4 500.8 642.7 501.6C643.1 502.5 643.4 503.3 643.7 504.2C644 505 644.3 505.9 644.5 506.8C644.8 507.8 645 508.7 645.3 509.6C645.5 510.6 645.7 511.6 645.8 512.6C646 513.6 646.1 514.6 646.2 515.6C646.3 516.6 646.4 517.7 646.5 518.8C646.6 519.8 646.6 520.9 646.6 522C646.6 523.1 646.6 524.2 646.6 525.3C646.6 526.5 646.5 527.6 646.4 528.8C646.4 529.9 646.2 531.1 646.1 532.2C646 533.4 645.8 534.6 645.7 535.8C645.5 537 645.3 538.2 645 539.4C644.8 540.6 644.4 542.4 644.3 543" fill="none" stroke-width="1"/>
<path d="M607.7 606.8C607.2 607.2 605.9 608.5 604.9 609.2C604 610 603.1 610.8 602.2 611.5C601.3 612.2 600.3 612.9 599.4 613.6C598.5 614.3 597.5 615 596.6 615.6C595.6 616.2 594.7 616.8 593.8 617.4C592.8 617.9 591.9 618.5 590.9 619C590 619.5 589.1 620 588.1 620.4C587.2 620.9 586.3 621.3 585.3 621.7C584.4 622.1 583.5 622.4 582.6 622.8C581.6 623.1 580.7 623.4 579.8 623.6C578.9 623.9 578 624.1 577.1 624.3C576.2 624.5 575.3 624.7 574.4 624.8C573.5 625 572.7 625.1 571.8 625.2C570.9 625.2 570.1 625.3 569.2 625.3C568.4 625.3 567.5 625.3 566.7 625.2C565.9 625.1 565.1 625 564.3 624.9C563.5 624.8 562.7 624.6 561.9 624.5C561.2 624.3 560.4 624.1 559.7 623.8C558.9 623.6 558.2 623.3 557.5 623C556.8 622.7 556.1 622.3 555.4 621.9C554.7 621.6 554.1 621.2 553.4 620.7C552.8 620.3 552.2 619.8 551.6 619.3C551 618.8 550.4 618.3 549.8 617.7C549.3 617.2 548.7 616.6 548.2 616C547.7 615.4 547.2 614.7 546.7 614.1C546.2 613.4 545.7 612.7 545.3 612C544.8 611.3 544.4 610.5 544 609.8C543.6 609 543.2 608.2 542.9 607.4C542.5 606.5 542.2 605.7 541.9 604.8C541.6 604 541.3 603.1 541.1 602.2C540.8 601.2 540.6 600.3 540.3 599.4C540.1 598.4 539.9 597.4 539.8 596.4C539.6 595.4 539.5 594.4 539.4 593.4C539.3 592.4 539.2 591.3 539.1 590.2C539 589.2 539 588.1 539 587C539 585.9 539 584.8 539 583.7C539 582.5 539.1 581.4 539.2 580.2C539.2 579.1 539.4 577.9 539.5 576.8C539.6 575.6 539.8 574.4 539.9 573.2C540.1 572 540.3 570.8 540.6 569.6C540.8 568.4 541 567.2 541.3 566C541.6 564.8 541.9 563.5 542.2 562.3C542.5 561.1 542.9 559.8 543.2 558.6C543.6 557.4 544 556.1 544.4 554.9C544.8 553.7 545.2 552.4 545.7 551.2C546.2 550 546.6 548.7 547.1 547.5C547.6 546.3 548.1 545.1 548.7 543.8C549.2 542.6 549.8 541.4 550.4 540.2C550.9 539 551.5 537.8 552.2 536.6C552.8 535.4 553.4 534.2 554.1 533C554.7 531.8 555.4 530.7 556.1 529.5C556.8 528.4 557.5 527.2 558.2 526.1C558.9 525 559.6 523.8 560.4 522.7C561.1 521.6 561.9 520.5 562.7 519.5C563.5 518.4 564.2 517.3 565 516.3C565.9 515.3 566.7 514.2 567.5 513.2C568.3 512.2 569.2 511.2 570 510.3C570.9 509.3 571.7 508.4 572.6 507.5C573.5 506.5 574.4 505.6 575.2 504.7C576.1 503.9 577 503 577.9 502.2C578.8 501.4 579.7 500.5 580.7 499.8C581.6 499 582.5 498.2 583.4 497.5C584.3 496.8 585.3 496.1 586.2 495.4C587.1 494.7 588.1 494 589 493.4C590 492.8 590.9 492.2 591.8 491.6C592.8 491.1 593.7 490.5 594.7 490C595.6 489.5 596.5 489 597.5 488.6C598.4 488.1 599.3 487.7 600.3 487.3C601.2 486.9 602.1 486.6 603 486.2C604 485.9 604.9 485.6 605.8 485.4C606.7 485.1 607.6 484.9 608.5 484.7C609.4 484.5 610.3 484.3 611.2 484.2C612.1 484 612.9 483.9 613.8 483.8C614.7 483.8 615.5 483.7 616.4 483.7C617.2 483.7 618.1 483.7 618.9 483.8C619.7 483.9 620.5 484 621.3 484.1C622.1 484.2 622.9 484.4 623.7 484.5C624.4 484.7 625.2 484.9 625.9 485.2C626.7 485.4 627.4 485.7 628.1 486C628.8 486.3 629.8 486.9 630.2 487.1" fill="none" stroke-width="1"/>
<path d="M613.5 483C612 483.1 607.5 483.2 604.5 483.8C601.5 484.4 600.2 484.3 595.8 486.3C591.4 488.3 583.7 491.6 578.1 495.9C572.5 500.2 566.8 506.4 562 512C557.2 517.6 552.7 523.5 549.1 529.7C545.5 535.9 542.7 542.3 540.3 549C537.9 555.7 535.8 563.5 534.7 569.9C533.6 576.3 533.4 583 533.8 587.6C534.2 592.2 535.4 593.5 536.9 597.4C538.4 601.3 540.2 607.3 542.8 611.3C545.4 615.3 549.1 618.9 552.7 621.2C556.3 623.5 562.6 624.5 564.6 625.1" fill="none" stroke-width="1"/>
<path d="M611 483.4C608.5 484 601.6 484.8 596.3 487.1C591 489.4 584.5 492.8 579.1 497C573.7 501.2 568.2 507.1 563.6 512.5C559 518 554.7 523.7 551.2 529.7C547.7 535.7 545.1 542 542.7 548.5C540.4 555 538.3 562.3 537.1 568.8C535.9 575.3 535.5 582.6 535.7 587.6C535.9 592.6 536.9 595.1 538.3 599C539.7 602.9 541.5 607.4 544 611C546.5 614.6 551.5 618.9 553 620.5" fill="none" stroke-width="1"/>
<path d="M609 484C607 484.6 601.7 485.6 596.9 487.9C592.1 490.2 585.5 493.8 580.2 498C574.9 502.2 569.7 507.7 565.2 513C560.7 518.3 556.8 523.9 553.4 529.7C550 535.5 547.4 541.7 545.1 548C542.8 554.3 540.8 561.1 539.5 567.7C538.2 574.3 537.6 582.2 537.6 587.6C537.6 593 538.6 596.2 539.8 600C541 603.8 542.7 607.2 545 610.5C547.3 613.8 552.1 618.2 553.5 619.8" fill="none" stroke-width="1"/>
<path d="M541.9 602C542.6 603.6 544.2 608.6 546 611.5C547.8 614.4 551.6 618.2 552.7 619.5" fill="none" stroke-width="2"/>
<path d="M600 484.6C601 484.4 603.8 483.5 606 483.2C608.2 482.9 610.7 482.7 613 482.8C615.3 482.9 618.8 483.6 620 483.8" fill="none" stroke-width="1.8"/>
<path d="M570.8 594.4C570.1 593.8 567.8 592.3 566.6 590.8C565.5 589.4 564.5 587.6 563.7 585.6C562.9 583.7 562.4 581.5 562.1 579.1C561.8 576.7 561.7 574.1 561.9 571.5C562.1 568.8 562.5 565.9 563.1 563.1C563.7 560.2 564.6 557.3 565.7 554.4C566.7 551.4 568 548.5 569.5 545.6C571 542.8 572.6 540 574.4 537.3C576.2 534.7 578.1 532.1 580.2 529.8C582.2 527.5 584.3 525.3 586.5 523.4C588.7 521.5 591 519.8 593.2 518.4C595.4 517.1 597.7 515.9 599.9 515.1C602.1 514.3 604.3 513.7 606.3 513.5C608.3 513.3 610.3 513.4 612.1 513.8C614 514.2 616.3 515.5 617.2 515.9" fill="none" stroke-width="1"/>
<path d="M570.1 591.2C569.6 590.5 567.7 588.7 566.8 587.1C565.9 585.5 565.2 583.6 564.7 581.5C564.2 579.4 563.9 577.1 563.9 574.7C563.8 572.3 564 569.7 564.4 567.1C564.8 564.5 565.4 561.7 566.2 558.9C567.1 556.2 568.1 553.3 569.3 550.6C570.5 547.8 572 545.1 573.5 542.4C575 539.8 576.8 537.2 578.6 534.9C580.4 532.5 582.4 530.2 584.4 528.2C586.4 526.2 588.5 524.3 590.6 522.7C592.7 521.1 594.8 519.8 596.9 518.7C599 517.6 601.2 516.8 603.2 516.3C605.2 515.8 607.1 515.6 609 515.7C610.8 515.7 613.2 516.6 614.1 516.8" fill="none" stroke-width="1"/>
<path d="M616.7 515.2L631 528.4" fill="none" stroke-width="1"/>
<path d="M570.8 594.4L592 605.1" fill="none" stroke-width="1"/>
<path d="M614.2 515.8L621.5 523.5" fill="none" stroke-width="1"/>
<path d="M635.5 529.7C637.4 530.8 639 532.3 640.3 534.2C641.6 536 642.6 538.4 643.2 540.9C643.9 543.4 644.2 546.4 644.2 549.4C644.2 552.5 643.8 555.8 643 559.2C642.3 562.5 641.3 566.1 639.9 569.5C638.6 572.9 636.9 576.4 635 579.6C633.1 582.9 631 586.1 628.7 589C626.4 591.8 623.8 594.6 621.3 596.8C618.8 599.1 616 601.1 613.4 602.7C610.8 604.3 608.1 605.4 605.6 606.1C603 606.9 600.5 607.1 598.3 607C596 606.8 593.9 606.1 592 605.1C590.2 604 588.6 602.5 587.3 600.6C586 598.8 585 596.4 584.4 593.9C583.7 591.4 583.4 588.4 583.4 585.4C583.4 582.3 583.8 579 584.5 575.6C585.3 572.3 586.3 568.7 587.7 565.3C589 561.9 590.7 558.4 592.6 555.1C594.5 551.9 596.6 548.7 598.9 545.8C601.2 543 603.8 540.2 606.3 538C608.8 535.7 611.6 533.7 614.2 532.1C616.8 530.5 619.5 529.4 622 528.6C624.6 527.9 627.1 527.7 629.3 527.8C631.6 528 633.7 528.7 635.5 529.7Z" fill="none" stroke-width="1"/>
<path d="M616.4 537C616.7 537.1 616.8 537.3 617 537.5C617.2 537.7 617.3 537.9 617.4 538.2C617.5 538.5 617.5 538.8 617.5 539.2C617.5 539.5 617.5 539.9 617.4 540.2C617.4 540.6 617.3 541 617.1 541.4C617 541.7 616.8 542.1 616.6 542.5C616.4 542.8 616.2 543.2 615.9 543.5C615.6 543.8 615.4 544.1 615.1 544.3C614.8 544.6 614.5 544.8 614.2 544.9C613.9 545.1 613.6 545.2 613.3 545.3C613 545.3 612.7 545.4 612.5 545.3C612.2 545.3 612 545.2 611.7 545.1C611.5 545 611.3 544.8 611.2 544.6C611 544.4 610.9 544.1 610.8 543.8C610.7 543.5 610.7 543.2 610.6 542.9C610.6 542.5 610.7 542.2 610.7 541.8C610.8 541.4 610.9 541.1 611 540.7C611.2 540.3 611.4 539.9 611.6 539.6C611.8 539.2 612 538.9 612.3 538.6C612.5 538.3 612.8 538 613.1 537.7C613.4 537.5 613.7 537.3 614 537.1C614.3 537 614.6 536.8 614.9 536.8C615.2 536.7 615.4 536.7 615.7 536.7C616 536.8 616.2 536.8 616.4 537Z" fill="none" stroke-width="1"/>
<path d="M614.2 545.1C614.2 545.1 613.9 545.2 613.7 545.2C613.5 545.2 613.3 545.1 613.2 545.1C613 545 612.9 544.9 612.7 544.8C612.6 544.7 612.5 544.6 612.4 544.4C612.3 544.2 612.3 544 612.2 543.8C612.2 543.6 612.2 543.4 612.2 543.2C612.2 542.9 612.2 542.7 612.2 542.4C612.3 542.2 612.3 541.9 612.4 541.6C612.5 541.4 612.6 541.1 612.7 540.8C612.9 540.6 613 540.3 613.2 540.1C613.3 539.8 613.5 539.6 613.7 539.4C613.9 539.2 614.1 539 614.3 538.8C614.5 538.6 614.7 538.5 614.9 538.3C615.1 538.2 615.3 538.1 615.5 538C615.7 538 615.9 537.9 616.1 537.9C616.3 537.9 616.5 537.9 616.6 537.9" fill="none" stroke-width="1"/>
<path d="M632.4 535.2C632.6 535.3 632.8 535.5 633 535.7C633.1 535.9 633.3 536.2 633.3 536.5C633.4 536.7 633.5 537.1 633.5 537.4C633.5 537.7 633.5 538.1 633.4 538.5C633.3 538.8 633.2 539.2 633.1 539.6C632.9 540 632.8 540.4 632.6 540.7C632.4 541.1 632.1 541.4 631.9 541.7C631.6 542 631.3 542.3 631 542.5C630.8 542.8 630.5 543 630.2 543.2C629.9 543.3 629.6 543.4 629.3 543.5C629 543.6 628.7 543.6 628.4 543.6C628.2 543.5 627.9 543.4 627.7 543.3C627.5 543.2 627.3 543 627.1 542.8C627 542.6 626.8 542.3 626.8 542.1C626.7 541.8 626.6 541.4 626.6 541.1C626.6 540.8 626.6 540.4 626.7 540C626.8 539.7 626.9 539.3 627 538.9C627.2 538.5 627.3 538.2 627.5 537.8C627.7 537.5 628 537.1 628.2 536.8C628.5 536.5 628.8 536.2 629 536C629.3 535.7 629.6 535.5 629.9 535.4C630.2 535.2 630.5 535.1 630.8 535C631.1 534.9 631.4 534.9 631.7 534.9C631.9 535 632.2 535.1 632.4 535.2Z" fill="none" stroke-width="1"/>
<path d="M630.2 543.3C630.1 543.3 629.8 543.4 629.6 543.4C629.5 543.4 629.3 543.4 629.1 543.3C629 543.2 628.8 543.2 628.7 543C628.6 542.9 628.5 542.8 628.4 542.6C628.3 542.5 628.2 542.3 628.2 542.1C628.1 541.9 628.1 541.6 628.1 541.4C628.1 541.2 628.2 540.9 628.2 540.6C628.2 540.4 628.3 540.1 628.4 539.9C628.5 539.6 628.6 539.3 628.7 539.1C628.8 538.8 629 538.5 629.1 538.3C629.3 538.1 629.5 537.8 629.7 537.6C629.8 537.4 630 537.2 630.2 537C630.4 536.9 630.6 536.7 630.8 536.6C631 536.4 631.2 536.3 631.4 536.3C631.6 536.2 631.8 536.1 632 536.1C632.2 536.1 632.5 536.1 632.6 536.1" fill="none" stroke-width="1"/>
<path d="M638.8 549.9C639.1 550 639.3 550.2 639.4 550.4C639.6 550.6 639.7 550.9 639.8 551.2C639.9 551.5 639.9 551.8 639.9 552.1C639.9 552.5 639.9 552.8 639.8 553.2C639.8 553.6 639.7 553.9 639.5 554.3C639.4 554.7 639.2 555.1 639 555.4C638.8 555.8 638.6 556.1 638.3 556.4C638.1 556.7 637.8 557 637.5 557.3C637.2 557.5 636.9 557.7 636.6 557.9C636.3 558 636 558.2 635.7 558.2C635.4 558.3 635.1 558.3 634.9 558.3C634.6 558.2 634.4 558.2 634.1 558C633.9 557.9 633.7 557.7 633.6 557.5C633.4 557.3 633.3 557.1 633.2 556.8C633.1 556.5 633.1 556.2 633.1 555.8C633 555.5 633.1 555.1 633.1 554.7C633.2 554.4 633.3 554 633.5 553.6C633.6 553.2 633.8 552.9 634 552.5C634.2 552.2 634.4 551.8 634.7 551.5C634.9 551.2 635.2 550.9 635.5 550.7C635.8 550.4 636.1 550.2 636.4 550.1C636.7 549.9 637 549.8 637.3 549.7C637.6 549.7 637.9 549.6 638.1 549.7C638.4 549.7 638.6 549.8 638.8 549.9Z" fill="none" stroke-width="1"/>
<path d="M636.7 558C636.6 558.1 636.3 558.1 636.1 558.1C635.9 558.1 635.7 558.1 635.6 558C635.4 558 635.3 557.9 635.2 557.8C635 557.6 634.9 557.5 634.8 557.3C634.8 557.2 634.7 557 634.6 556.8C634.6 556.6 634.6 556.3 634.6 556.1C634.6 555.9 634.6 555.6 634.6 555.4C634.7 555.1 634.8 554.8 634.8 554.6C634.9 554.3 635 554 635.2 553.8C635.3 553.5 635.4 553.3 635.6 553C635.7 552.8 635.9 552.5 636.1 552.3C636.3 552.1 636.5 551.9 636.7 551.7C636.9 551.6 637.1 551.4 637.3 551.3C637.5 551.2 637.7 551 637.9 551C638.1 550.9 638.3 550.8 638.5 550.8C638.7 550.8 638.9 550.9 639 550.9" fill="none" stroke-width="1"/>
<path d="M615.9 589.7C616.1 589.8 616.3 590 616.4 590.2C616.6 590.4 616.7 590.7 616.8 591C616.9 591.3 616.9 591.6 617 591.9C617 592.3 616.9 592.6 616.9 593C616.8 593.4 616.7 593.7 616.6 594.1C616.4 594.5 616.2 594.9 616 595.2C615.8 595.6 615.6 595.9 615.3 596.2C615.1 596.5 614.8 596.8 614.5 597.1C614.2 597.3 613.9 597.5 613.6 597.7C613.3 597.8 613 598 612.7 598C612.4 598.1 612.2 598.1 611.9 598.1C611.6 598 611.4 598 611.2 597.8C610.9 597.7 610.8 597.5 610.6 597.3C610.4 597.1 610.3 596.9 610.2 596.6C610.1 596.3 610.1 596 610.1 595.6C610.1 595.3 610.1 594.9 610.2 594.6C610.2 594.2 610.3 593.8 610.5 593.4C610.6 593.1 610.8 592.7 611 592.3C611.2 592 611.4 591.6 611.7 591.3C612 591 612.2 590.7 612.5 590.5C612.8 590.2 613.1 590 613.4 589.9C613.7 589.7 614 589.6 614.3 589.5C614.6 589.5 614.9 589.4 615.1 589.5C615.4 589.5 615.6 589.6 615.9 589.7Z" fill="none" stroke-width="1"/>
<path d="M613.7 597.8C613.6 597.9 613.3 597.9 613.1 597.9C612.9 597.9 612.8 597.9 612.6 597.8C612.4 597.8 612.3 597.7 612.2 597.6C612 597.4 611.9 597.3 611.9 597.1C611.8 597 611.7 596.8 611.7 596.6C611.6 596.4 611.6 596.1 611.6 595.9C611.6 595.7 611.6 595.4 611.7 595.2C611.7 594.9 611.8 594.6 611.9 594.4C611.9 594.1 612.1 593.8 612.2 593.6C612.3 593.3 612.4 593.1 612.6 592.8C612.8 592.6 612.9 592.3 613.1 592.1C613.3 591.9 613.5 591.7 613.7 591.5C613.9 591.4 614.1 591.2 614.3 591.1C614.5 591 614.7 590.9 614.9 590.8C615.1 590.7 615.3 590.7 615.5 590.6C615.7 590.6 615.9 590.7 616 590.7" fill="none" stroke-width="1"/>
<path d="M599.9 591.5C600.1 591.6 600.3 591.8 600.5 592C600.6 592.2 600.8 592.5 600.8 592.7C600.9 593 601 593.4 601 593.7C601 594 601 594.4 600.9 594.8C600.8 595.1 600.7 595.5 600.6 595.9C600.4 596.3 600.3 596.6 600.1 597C599.9 597.3 599.6 597.7 599.4 598C599.1 598.3 598.8 598.6 598.5 598.8C598.3 599.1 598 599.3 597.7 599.4C597.4 599.6 597.1 599.7 596.8 599.8C596.5 599.9 596.2 599.9 595.9 599.9C595.7 599.8 595.4 599.7 595.2 599.6C595 599.5 594.8 599.3 594.6 599.1C594.5 598.9 594.3 598.6 594.3 598.3C594.2 598.1 594.1 597.7 594.1 597.4C594.1 597.1 594.1 596.7 594.2 596.3C594.3 596 594.4 595.6 594.5 595.2C594.7 594.8 594.8 594.4 595 594.1C595.2 593.7 595.5 593.4 595.7 593.1C596 592.8 596.3 592.5 596.5 592.3C596.8 592 597.1 591.8 597.4 591.6C597.7 591.5 598 591.4 598.3 591.3C598.6 591.2 598.9 591.2 599.2 591.2C599.4 591.3 599.7 591.4 599.9 591.5Z" fill="none" stroke-width="1"/>
<path d="M597.7 599.6C597.6 599.6 597.3 599.7 597.1 599.7C597 599.7 596.8 599.7 596.6 599.6C596.5 599.5 596.3 599.4 596.2 599.3C596.1 599.2 596 599.1 595.9 598.9C595.8 598.7 595.7 598.6 595.7 598.3C595.6 598.1 595.6 597.9 595.6 597.7C595.6 597.4 595.7 597.2 595.7 596.9C595.7 596.7 595.8 596.4 595.9 596.1C596 595.9 596.1 595.6 596.2 595.4C596.3 595.1 596.5 594.8 596.6 594.6C596.8 594.4 597 594.1 597.2 593.9C597.3 593.7 597.5 593.5 597.7 593.3C597.9 593.1 598.1 593 598.3 592.9C598.5 592.7 598.7 592.6 598.9 592.5C599.1 592.5 599.3 592.4 599.5 592.4C599.7 592.4 600 592.4 600.1 592.4" fill="none" stroke-width="1"/>
<path d="M593.5 576.8C593.7 576.9 593.9 577.1 594 577.3C594.2 577.5 594.3 577.7 594.4 578C594.5 578.3 594.5 578.6 594.5 579C594.6 579.3 594.5 579.7 594.5 580.1C594.4 580.4 594.3 580.8 594.1 581.2C594 581.6 593.8 581.9 593.6 582.3C593.4 582.6 593.2 583 592.9 583.3C592.7 583.6 592.4 583.9 592.1 584.1C591.8 584.4 591.5 584.6 591.2 584.7C590.9 584.9 590.6 585 590.3 585.1C590 585.1 589.7 585.2 589.5 585.1C589.2 585.1 589 585 588.8 584.9C588.5 584.8 588.3 584.6 588.2 584.4C588 584.2 587.9 583.9 587.8 583.6C587.7 583.3 587.7 583 587.7 582.7C587.7 582.3 587.7 582 587.8 581.6C587.8 581.2 587.9 580.9 588.1 580.5C588.2 580.1 588.4 579.7 588.6 579.4C588.8 579 589 578.7 589.3 578.4C589.5 578.1 589.8 577.8 590.1 577.5C590.4 577.3 590.7 577.1 591 576.9C591.3 576.8 591.6 576.6 591.9 576.6C592.2 576.5 592.5 576.5 592.7 576.5C593 576.6 593.2 576.6 593.5 576.8Z" fill="none" stroke-width="1"/>
<path d="M591.3 584.9C591.2 584.9 590.9 585 590.7 585C590.5 585 590.3 584.9 590.2 584.9C590 584.8 589.9 584.7 589.8 584.6C589.6 584.5 589.5 584.4 589.4 584.2C589.4 584 589.3 583.8 589.2 583.6C589.2 583.4 589.2 583.2 589.2 583C589.2 582.7 589.2 582.5 589.2 582.2C589.3 582 589.4 581.7 589.4 581.4C589.5 581.2 589.6 580.9 589.8 580.6C589.9 580.4 590 580.1 590.2 579.9C590.3 579.6 590.5 579.4 590.7 579.2C590.9 579 591.1 578.8 591.3 578.6C591.5 578.4 591.7 578.3 591.9 578.1C592.1 578 592.3 577.9 592.5 577.8C592.7 577.8 592.9 577.7 593.1 577.7C593.3 577.7 593.5 577.7 593.6 577.7" fill="none" stroke-width="1"/>
<path d="M623.9 549.2C624.8 549.7 625.6 550.5 626.2 551.4C626.9 552.3 627.4 553.4 627.7 554.6C628 555.9 628.2 557.3 628.2 558.8C628.2 560.3 628 561.9 627.6 563.5C627.3 565.1 626.8 566.8 626.2 568.5C625.5 570.1 624.7 571.8 623.8 573.4C622.9 575 621.8 576.5 620.7 577.9C619.6 579.3 618.4 580.6 617.1 581.7C615.9 582.8 614.6 583.8 613.3 584.5C612 585.2 610.7 585.8 609.5 586.1C608.3 586.5 607 586.6 605.9 586.5C604.8 586.4 603.8 586.1 602.9 585.6C602 585.1 601.2 584.3 600.6 583.4C599.9 582.5 599.4 581.4 599.1 580.1C598.8 578.9 598.6 577.5 598.6 576C598.6 574.5 598.8 572.9 599.1 571.3C599.5 569.7 600 568 600.6 566.3C601.3 564.7 602.1 563 603 561.4C603.9 559.8 605 558.3 606.1 556.9C607.2 555.5 608.4 554.2 609.6 553.1C610.9 552 612.2 551 613.5 550.3C614.8 549.6 616.1 549 617.3 548.6C618.5 548.3 619.8 548.2 620.9 548.3C622 548.4 623 548.7 623.9 549.2Z" fill="none" stroke-width="1"/>
<path d="M619.9 550.5C619.7 551.6 619.1 554.9 618.5 557C617.9 559.1 616.8 562 616.5 563" fill="none" stroke-width="1"/>
<path d="M624.7 553.5C624.7 554.6 624.8 557.6 624.6 560C624.4 562.4 623.5 566.7 623.3 568" fill="none" stroke-width="1"/>
<path d="M602.2 584.4C603.7 583.9 608.1 582.8 611 581.5C613.9 580.2 617.4 578.2 619.5 576.5C621.6 574.8 622.8 572.3 623.5 571.5" fill="none" stroke-width="1"/>
<path d="M604.5 586C605.8 585.6 609.8 584.8 612.5 583.5C615.2 582.2 618.3 580.4 620.5 578.5C622.7 576.6 624.7 573.1 625.5 572" fill="none" stroke-width="1"/>
<path d="M600.5 583.5L608 573.5" fill="none" stroke-width="1"/>
<path d="M628 576.5L633 573" fill="none" stroke-width="1"/>
</g>
<g stroke="#000" stroke-width="1" fill="none" stroke-linecap="butt">
<path d="M108.6 163.5H161.6"/>
<path d="M281.5 235V285"/>
<path d="M403.5 378.5V427"/>
<path d="M370.5 354V403"/>
<path d="M447.5 399V448"/>
<path d="M508.5 426V472.5"/>
<path d="M596.5 451.5V486"/>
<path d="M665.5 533V580.5"/>
<path d="M698.5 634V690.5"/>
<path d="M664.5 640V694.5"/>
<path d="M304.5 567.5V625"/>
<path d="M712.8 565.5H768"/>
</g>
<g class="lbl">
<text x="170.6" y="171.8">1</text>
<text x="282.5" y="227">2</text>
<text x="402.5" y="370">3</text>
<text x="371.5" y="347.2">4</text>
<text x="447.3" y="391.2">4</text>
<text x="508.5" y="417.8">5</text>
<text x="596.5" y="443.5">6</text>
<text x="666" y="525.5">7</text>
<text x="699.7" y="711.2">8</text>
<text x="663.6" y="714.2">9</text>
<text x="305.3" y="643">10</text>
<text x="782.4" y="573.8">11</text>
</g>
<rect x="556" y="395" width="91" height="91" fill="#ff0000" fill-opacity="0.48"/>
<rect x="0" y="732" width="808" height="80" fill="#646464"/>
<g class="ft">
<text x="130" y="787.3" textLength="276.5" lengthAdjust="spacingAndGlyphs">GENERAL MOTORS</text>
<text x="411.3" y="787.3" textLength="12" lengthAdjust="spacingAndGlyphs">-</text>
<text x="430" y="787.3" textLength="144.5" lengthAdjust="spacingAndGlyphs">90121445</text>
<text x="611.6" y="787.3" textLength="26" lengthAdjust="spacingAndGlyphs">N</text>
<text x="643.3" y="787.3" textLength="12.5" lengthAdjust="spacingAndGlyphs">-</text>
<text x="659.6" y="787.3" textLength="19" lengthAdjust="spacingAndGlyphs">6</text>
</g>

</svg>
</body>
</html>
